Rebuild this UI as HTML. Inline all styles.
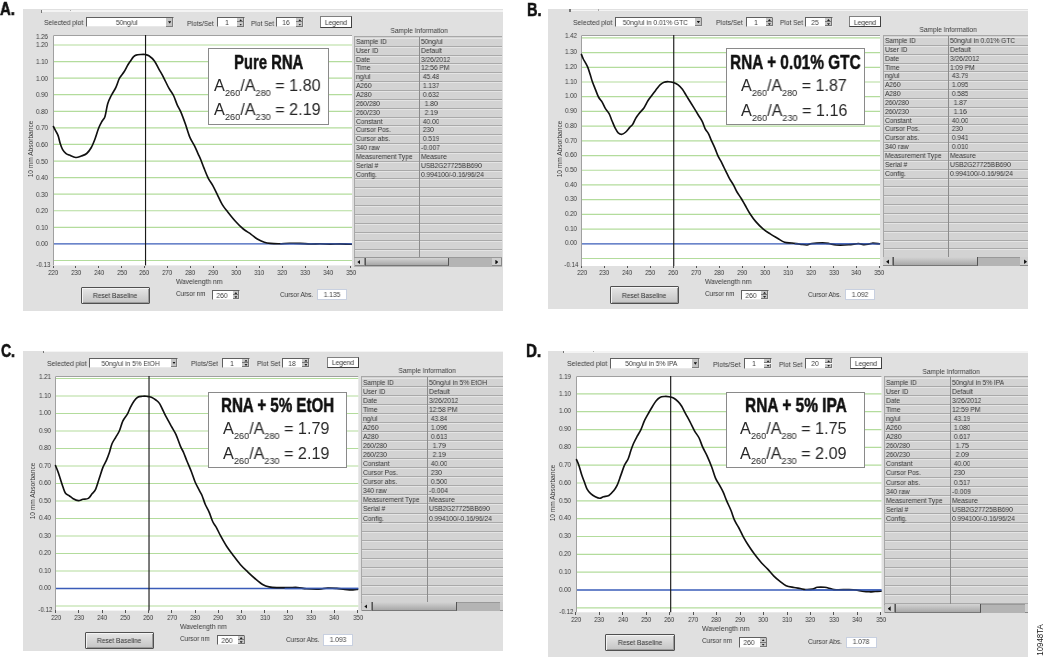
<!DOCTYPE html>
<html><head><meta charset="utf-8"><style>
html,body{margin:0;padding:0;background:#fff}
body{width:1044px;height:658px;position:relative;overflow:hidden;font-family:"Liberation Sans", sans-serif}
.sq{will-change:transform}
sub{font-size:0.57em;vertical-align:baseline;position:relative;top:0.5em;line-height:0}
.lab{position:absolute;font-weight:bold;font-size:18.8px;line-height:19.6px;color:#111;white-space:nowrap;-webkit-text-stroke:0.6px #111}
</style></head><body>
<div style="position:absolute;left:23px;top:9.3px;width:479.8px;height:301.3px;background:#e0e0e0;overflow:hidden">
<div style="position:absolute;left:18.5px;top:0.7px;width:478.5px;height:1.8px;background:#f4f4f4"></div>
<div style="position:absolute;left:17.8px;top:0.5px;width:1.1px;height:2.8px;background:#777"></div>
<div style="position:absolute;left:46.8px;top:0.5px;width:1px;height:1.4px;background:#aaa"></div>
<div style="position:absolute;left:21.3px;top:7.9px;height:12px;line-height:12px;font-size:7.2px;color:#383838;white-space:pre;"><span class="sq" style="display: inline-block; transform-origin: 0px 50%; transform: scaleX(0.943158);">Selected plot</span></div>
<div style="position:absolute;left:63px;top:8px;width:87.8px;height:10.2px;background:#fff;box-sizing:border-box;border-top:1px solid #606060;border-left:1px solid #606060;border-bottom:1px solid #e8e8e8;border-right:1px solid #e8e8e8"></div>
<div style="position:absolute;left:143.3px;top:9px;width:6.7px;height:8.3px;background:#c4c4c4;box-sizing:border-box;border-right:1px solid #808080;border-bottom:1px solid #808080"></div>
<div style="position:absolute;left:145px;top:11.9px;width:3.4px;height:2.4px;background:#111;clip-path:polygon(0 0,100% 0,50% 100%)"></div>
<div style="position:absolute;left:3.5px;top:7.9px;width:200px;height:12px;line-height:12px;font-size:7.2px;color:#383838;white-space:pre;text-align:center;"><span class="sq" style="display: inline-block; transform-origin: 50% 50%; transform: scaleX(0.92);">50ng/ul</span></div>
<div style="position:absolute;left:163.9px;top:8.3px;height:12px;line-height:12px;font-size:7.2px;color:#383838;white-space:pre;"><span class="sq" style="display: inline-block; transform-origin: 0px 50%; transform: scaleX(0.931668);">Plots/Set</span></div>
<div style="position:absolute;left:194px;top:8px;width:27.8px;height:10.2px;background:#fff;box-sizing:border-box;border-top:1px solid #606060;border-left:1px solid #606060;border-bottom:1px solid #e8e8e8;border-right:1px solid #e8e8e8"></div>
<div style="position:absolute;left:214.2px;top:9px;width:6.8px;height:4.1px;background:#c8c8c8;box-sizing:border-box;border-right:1px solid #777;border-bottom:1px solid #777"></div>
<div style="position:absolute;left:214.2px;top:13.1px;width:6.8px;height:4.2px;background:#c8c8c8;box-sizing:border-box;border-right:1px solid #777;border-bottom:1px solid #777"></div>
<div style="position:absolute;left:216.2px;top:9.9px;width:3px;height:2px;background:#222;clip-path:polygon(50% 0,100% 100%,0 100%)"></div>
<div style="position:absolute;left:216.2px;top:14.3px;width:3px;height:2px;background:#222;clip-path:polygon(0 0,100% 0,50% 100%)"></div>
<div style="position:absolute;left:103.9px;top:7.9px;width:200px;height:12px;line-height:12px;font-size:7.2px;color:#383838;white-space:pre;text-align:center;"><span class="sq" style="display: inline-block; transform-origin: 50% 50%; transform: scaleX(0.92);">1</span></div>
<div style="position:absolute;left:253.4px;top:8px;width:27.5px;height:10.2px;background:#fff;box-sizing:border-box;border-top:1px solid #606060;border-left:1px solid #606060;border-bottom:1px solid #e8e8e8;border-right:1px solid #e8e8e8"></div>
<div style="position:absolute;left:273.3px;top:9px;width:6.8px;height:4.1px;background:#c8c8c8;box-sizing:border-box;border-right:1px solid #777;border-bottom:1px solid #777"></div>
<div style="position:absolute;left:273.3px;top:13.1px;width:6.8px;height:4.2px;background:#c8c8c8;box-sizing:border-box;border-right:1px solid #777;border-bottom:1px solid #777"></div>
<div style="position:absolute;left:275.3px;top:9.9px;width:3px;height:2px;background:#222;clip-path:polygon(50% 0,100% 100%,0 100%)"></div>
<div style="position:absolute;left:275.3px;top:14.3px;width:3px;height:2px;background:#222;clip-path:polygon(0 0,100% 0,50% 100%)"></div>
<div style="position:absolute;left:163.15px;top:7.9px;width:200px;height:12px;line-height:12px;font-size:7.2px;color:#383838;white-space:pre;text-align:center;"><span class="sq" style="display: inline-block; transform-origin: 50% 50%; transform: scaleX(0.92);">16</span></div>
<div style="position:absolute;left:228.4px;top:8.3px;height:12px;line-height:12px;font-size:7.2px;color:#383838;white-space:pre;"><span class="sq" style="display: inline-block; transform-origin: 0px 50%; transform: scaleX(0.905773);">Plot Set</span></div>
<div style="position:absolute;left:297.2px;top:7.1px;width:31.7px;height:11.4px;background:#fff;box-sizing:border-box;border:1px solid #404040;border-top-color:#808080;border-left-color:#808080"></div>
<div style="position:absolute;left:213.05px;top:7.7px;width:200px;height:12px;line-height:12px;font-size:7.2px;color:#303030;white-space:pre;text-align:center;"><span class="sq" style="display: inline-block; transform-origin: 50% 50%; transform: scaleX(0.92);">Legend</span></div>
<div style="position:absolute;left:296px;top:15.5px;width:200px;height:12px;line-height:12px;font-size:7.2px;color:#383838;white-space:pre;text-align:center;"><span class="sq" style="display: inline-block; transform-origin: 50% 50%; transform: scaleX(0.92);">Sample Information</span></div>
<svg width="299" height="230.4" style="position:absolute;left:29.8px;top:26.2px;overflow:visible"><rect x="0" y="0" width="299" height="230.4" fill="#fff"></rect><line x1="0" x2="299" y1="225.48" y2="225.48" stroke="#b3dc9c" stroke-width="1.2"></line><line x1="0" x2="299" y1="208.9" y2="208.9" stroke="#3a5cb8" stroke-width="1.3"></line><line x1="0" x2="299" y1="192.33" y2="192.33" stroke="#b3dc9c" stroke-width="1.2"></line><line x1="0" x2="299" y1="175.75" y2="175.75" stroke="#b3dc9c" stroke-width="1.2"></line><line x1="0" x2="299" y1="159.18" y2="159.18" stroke="#b3dc9c" stroke-width="1.2"></line><line x1="0" x2="299" y1="142.6" y2="142.6" stroke="#b3dc9c" stroke-width="1.2"></line><line x1="0" x2="299" y1="126.03" y2="126.03" stroke="#b3dc9c" stroke-width="1.2"></line><line x1="0" x2="299" y1="109.45" y2="109.45" stroke="#b3dc9c" stroke-width="1.2"></line><line x1="0" x2="299" y1="92.88" y2="92.88" stroke="#b3dc9c" stroke-width="1.2"></line><line x1="0" x2="299" y1="76.3" y2="76.3" stroke="#b3dc9c" stroke-width="1.2"></line><line x1="0" x2="299" y1="59.72" y2="59.72" stroke="#b3dc9c" stroke-width="1.2"></line><line x1="0" x2="299" y1="43.15" y2="43.15" stroke="#b3dc9c" stroke-width="1.2"></line><line x1="0" x2="299" y1="26.57" y2="26.57" stroke="#b3dc9c" stroke-width="1.2"></line><line x1="0" x2="299" y1="10" y2="10" stroke="#b3dc9c" stroke-width="1.2"></line><path d="M0.5 230.4 V0.5 H299" fill="none" stroke="#a0a0a0" stroke-width="1"></path><line x1="92.54" x2="92.54" y1="0" y2="230.4" stroke="#1a1a1a" stroke-width="1.15"></line><path d="M0.4 91.5 C0.8 92.27 2.02 94.58 2.8 96.1 C3.58 97.62 4.35 98.48 5.1 100.6 C5.85 102.72 6.57 106.52 7.3 108.8 C8.03 111.08 8.58 112.72 9.5 114.3 C10.42 115.88 11.65 117.33 12.8 118.3 C13.95 119.27 14.73 119.4 16.4 120.1 C18.07 120.8 20.82 122.35 22.8 122.5 C24.78 122.65 26.48 121.67 28.3 121 C30.12 120.33 32.03 119.92 33.7 118.5 C35.37 117.08 36.93 114.87 38.3 112.5 C39.67 110.13 40.68 107.5 41.9 104.3 C43.12 101.1 44.38 96.35 45.6 93.3 C46.82 90.25 48.13 87.97 49.2 86 C50.27 84.03 51.08 84.38 52 81.5 C52.92 78.62 53.65 72.2 54.7 68.7 C55.75 65.2 56.93 63.23 58.3 60.5 C59.67 57.77 61.53 55.18 62.9 52.3 C64.27 49.42 65.13 45.78 66.5 43.2 C67.87 40.62 69.72 39 71.1 36.8 C72.48 34.6 73.7 31.85 74.8 30 C75.9 28.15 76.77 27.05 77.7 25.7 C78.63 24.35 79.5 22.83 80.4 21.9 C81.3 20.97 81.88 20.5 83.1 20.1 C84.32 19.7 86.18 19.6 87.7 19.5 C89.22 19.4 90.83 19.28 92.2 19.5 C93.57 19.72 94.37 19.73 95.9 20.8 C97.43 21.87 99.73 23.68 101.4 25.9 C103.07 28.12 104.38 31.37 105.9 34.1 C107.42 36.83 108.83 39.12 110.5 42.3 C112.17 45.48 114.23 50.17 115.9 53.2 C117.57 56.23 119.13 57.77 120.5 60.5 C121.87 63.23 122.88 66.87 124.1 69.6 C125.32 72.33 126.43 73.7 127.8 76.9 C129.17 80.1 130.78 84.55 132.3 88.8 C133.82 93.05 135.38 98.77 136.9 102.4 C138.42 106.03 140.03 107.87 141.4 110.6 C142.77 113.33 144 116.35 145.1 118.8 C146.2 121.25 147.03 122.95 148 125.3 C148.97 127.65 149.68 129.9 150.9 132.9 C152.12 135.9 153.83 140.4 155.3 143.3 C156.77 146.2 158.23 147.67 159.7 150.3 C161.17 152.93 162.5 155.88 164.1 159.1 C165.7 162.32 167.57 166.68 169.3 169.6 C171.03 172.52 172.32 173.83 174.5 176.6 C176.68 179.37 179.77 183.3 182.4 186.2 C185.03 189.1 187.68 191.82 190.3 194 C192.92 196.18 195.77 197.63 198.1 199.3 C200.43 200.97 202.1 202.68 204.3 204 C206.5 205.32 209.12 206.47 211.3 207.2 C213.48 207.93 214.93 208.15 217.4 208.4 C219.87 208.65 222.9 208.72 226.1 208.7 C229.3 208.68 233.08 208.35 236.6 208.3 C240.12 208.25 243.77 208.28 247.2 208.4 C250.63 208.52 253.87 208.93 257.2 209 C260.53 209.07 263.87 208.78 267.2 208.8 C270.53 208.82 273.87 209.08 277.2 209.1 C280.53 209.12 283.7 208.87 287.2 208.9 C290.7 208.93 296.37 209.23 298.2 209.3" fill="none" stroke="#111" stroke-width="1.65" stroke-linejoin="round" stroke-linecap="round"></path><line x1="227.2" x2="299" y1="208.9" y2="208.9" stroke="#3a5cb8" stroke-width="1.3" opacity="0.85"></line></svg>
<div style="position:absolute;left:-4.8px;top:21.4px;width:30px;height:12px;line-height:12px;font-size:7.2px;color:#383838;text-align:right;white-space:nowrap"><span class="sq" style="display: inline-block; transform-origin: 100% 50%; transform: scaleX(0.86);">1.26</span></div>
<div style="position:absolute;left:-4.8px;top:30.2px;width:30px;height:12px;line-height:12px;font-size:7.2px;color:#383838;text-align:right;white-space:nowrap"><span class="sq" style="display: inline-block; transform-origin: 100% 50%; transform: scaleX(0.86);">1.20</span></div>
<div style="position:absolute;left:-4.8px;top:46.77px;width:30px;height:12px;line-height:12px;font-size:7.2px;color:#383838;text-align:right;white-space:nowrap"><span class="sq" style="display: inline-block; transform-origin: 100% 50%; transform: scaleX(0.86);">1.10</span></div>
<div style="position:absolute;left:-4.8px;top:63.35px;width:30px;height:12px;line-height:12px;font-size:7.2px;color:#383838;text-align:right;white-space:nowrap"><span class="sq" style="display: inline-block; transform-origin: 100% 50%; transform: scaleX(0.86);">1.00</span></div>
<div style="position:absolute;left:-4.8px;top:79.92px;width:30px;height:12px;line-height:12px;font-size:7.2px;color:#383838;text-align:right;white-space:nowrap"><span class="sq" style="display: inline-block; transform-origin: 100% 50%; transform: scaleX(0.86);">0.90</span></div>
<div style="position:absolute;left:-4.8px;top:96.5px;width:30px;height:12px;line-height:12px;font-size:7.2px;color:#383838;text-align:right;white-space:nowrap"><span class="sq" style="display: inline-block; transform-origin: 100% 50%; transform: scaleX(0.86);">0.80</span></div>
<div style="position:absolute;left:-4.8px;top:113.08px;width:30px;height:12px;line-height:12px;font-size:7.2px;color:#383838;text-align:right;white-space:nowrap"><span class="sq" style="display: inline-block; transform-origin: 100% 50%; transform: scaleX(0.86);">0.70</span></div>
<div style="position:absolute;left:-4.8px;top:129.65px;width:30px;height:12px;line-height:12px;font-size:7.2px;color:#383838;text-align:right;white-space:nowrap"><span class="sq" style="display: inline-block; transform-origin: 100% 50%; transform: scaleX(0.86);">0.60</span></div>
<div style="position:absolute;left:-4.8px;top:146.22px;width:30px;height:12px;line-height:12px;font-size:7.2px;color:#383838;text-align:right;white-space:nowrap"><span class="sq" style="display: inline-block; transform-origin: 100% 50%; transform: scaleX(0.86);">0.50</span></div>
<div style="position:absolute;left:-4.8px;top:162.8px;width:30px;height:12px;line-height:12px;font-size:7.2px;color:#383838;text-align:right;white-space:nowrap"><span class="sq" style="display: inline-block; transform-origin: 100% 50%; transform: scaleX(0.86);">0.40</span></div>
<div style="position:absolute;left:-4.8px;top:179.38px;width:30px;height:12px;line-height:12px;font-size:7.2px;color:#383838;text-align:right;white-space:nowrap"><span class="sq" style="display: inline-block; transform-origin: 100% 50%; transform: scaleX(0.86);">0.30</span></div>
<div style="position:absolute;left:-4.8px;top:195.95px;width:30px;height:12px;line-height:12px;font-size:7.2px;color:#383838;text-align:right;white-space:nowrap"><span class="sq" style="display: inline-block; transform-origin: 100% 50%; transform: scaleX(0.86);">0.20</span></div>
<div style="position:absolute;left:-4.8px;top:212.53px;width:30px;height:12px;line-height:12px;font-size:7.2px;color:#383838;text-align:right;white-space:nowrap"><span class="sq" style="display: inline-block; transform-origin: 100% 50%; transform: scaleX(0.86);">0.10</span></div>
<div style="position:absolute;left:-4.8px;top:229.1px;width:30px;height:12px;line-height:12px;font-size:7.2px;color:#383838;text-align:right;white-space:nowrap"><span class="sq" style="display: inline-block; transform-origin: 100% 50%; transform: scaleX(0.86);">0.00</span></div>
<div style="position:absolute;left:-3px;top:250.1px;width:30px;height:12px;line-height:12px;font-size:7.2px;color:#383838;text-align:right;white-space:nowrap"><span class="sq" style="display: inline-block; transform-origin: 100% 50%; transform: scaleX(0.86);">-0.13</span></div>
<div style="position:absolute;left:8px;top:140px;width:80px;height:10px;line-height:10px;font-size:7px;color:#404040;text-align:center;transform:translate(-40px,-5px) rotate(-90deg) scaleX(0.94);white-space:nowrap">10 mm Absorbance</div>
<div style="position:absolute;left:29.5px;top:256.6px;width:1px;height:2.6px;background:#555"></div>
<div style="position:absolute;left:20px;top:258.2px;width:20px;height:12px;line-height:12px;font-size:7.4px;color:#383838;text-align:center"><span class="sq" style="display: inline-block; transform-origin: 50% 50%; transform: scaleX(0.8);">220</span></div>
<div style="position:absolute;left:52.41px;top:256.6px;width:1px;height:2.6px;background:#555"></div>
<div style="position:absolute;left:42.91px;top:258.2px;width:20px;height:12px;line-height:12px;font-size:7.4px;color:#383838;text-align:center"><span class="sq" style="display: inline-block; transform-origin: 50% 50%; transform: scaleX(0.8);">230</span></div>
<div style="position:absolute;left:75.32px;top:256.6px;width:1px;height:2.6px;background:#555"></div>
<div style="position:absolute;left:65.82px;top:258.2px;width:20px;height:12px;line-height:12px;font-size:7.4px;color:#383838;text-align:center"><span class="sq" style="display: inline-block; transform-origin: 50% 50%; transform: scaleX(0.8);">240</span></div>
<div style="position:absolute;left:98.23px;top:256.6px;width:1px;height:2.6px;background:#555"></div>
<div style="position:absolute;left:88.73px;top:258.2px;width:20px;height:12px;line-height:12px;font-size:7.4px;color:#383838;text-align:center"><span class="sq" style="display: inline-block; transform-origin: 50% 50%; transform: scaleX(0.8);">250</span></div>
<div style="position:absolute;left:121.14px;top:256.6px;width:1px;height:2.6px;background:#555"></div>
<div style="position:absolute;left:111.64px;top:258.2px;width:20px;height:12px;line-height:12px;font-size:7.4px;color:#383838;text-align:center"><span class="sq" style="display: inline-block; transform-origin: 50% 50%; transform: scaleX(0.8);">260</span></div>
<div style="position:absolute;left:144.05px;top:256.6px;width:1px;height:2.6px;background:#555"></div>
<div style="position:absolute;left:134.55px;top:258.2px;width:20px;height:12px;line-height:12px;font-size:7.4px;color:#383838;text-align:center"><span class="sq" style="display: inline-block; transform-origin: 50% 50%; transform: scaleX(0.8);">270</span></div>
<div style="position:absolute;left:166.96px;top:256.6px;width:1px;height:2.6px;background:#555"></div>
<div style="position:absolute;left:157.46px;top:258.2px;width:20px;height:12px;line-height:12px;font-size:7.4px;color:#383838;text-align:center"><span class="sq" style="display: inline-block; transform-origin: 50% 50%; transform: scaleX(0.8);">280</span></div>
<div style="position:absolute;left:189.87px;top:256.6px;width:1px;height:2.6px;background:#555"></div>
<div style="position:absolute;left:180.37px;top:258.2px;width:20px;height:12px;line-height:12px;font-size:7.4px;color:#383838;text-align:center"><span class="sq" style="display: inline-block; transform-origin: 50% 50%; transform: scaleX(0.8);">290</span></div>
<div style="position:absolute;left:212.78px;top:256.6px;width:1px;height:2.6px;background:#555"></div>
<div style="position:absolute;left:203.28px;top:258.2px;width:20px;height:12px;line-height:12px;font-size:7.4px;color:#383838;text-align:center"><span class="sq" style="display: inline-block; transform-origin: 50% 50%; transform: scaleX(0.8);">300</span></div>
<div style="position:absolute;left:235.69px;top:256.6px;width:1px;height:2.6px;background:#555"></div>
<div style="position:absolute;left:226.19px;top:258.2px;width:20px;height:12px;line-height:12px;font-size:7.4px;color:#383838;text-align:center"><span class="sq" style="display: inline-block; transform-origin: 50% 50%; transform: scaleX(0.8);">310</span></div>
<div style="position:absolute;left:258.6px;top:256.6px;width:1px;height:2.6px;background:#555"></div>
<div style="position:absolute;left:249.1px;top:258.2px;width:20px;height:12px;line-height:12px;font-size:7.4px;color:#383838;text-align:center"><span class="sq" style="display: inline-block; transform-origin: 50% 50%; transform: scaleX(0.8);">320</span></div>
<div style="position:absolute;left:281.51px;top:256.6px;width:1px;height:2.6px;background:#555"></div>
<div style="position:absolute;left:272.01px;top:258.2px;width:20px;height:12px;line-height:12px;font-size:7.4px;color:#383838;text-align:center"><span class="sq" style="display: inline-block; transform-origin: 50% 50%; transform: scaleX(0.8);">330</span></div>
<div style="position:absolute;left:304.42px;top:256.6px;width:1px;height:2.6px;background:#555"></div>
<div style="position:absolute;left:294.92px;top:258.2px;width:20px;height:12px;line-height:12px;font-size:7.4px;color:#383838;text-align:center"><span class="sq" style="display: inline-block; transform-origin: 50% 50%; transform: scaleX(0.8);">340</span></div>
<div style="position:absolute;left:327.33px;top:256.6px;width:1px;height:2.6px;background:#555"></div>
<div style="position:absolute;left:317.83px;top:258.2px;width:20px;height:12px;line-height:12px;font-size:7.4px;color:#383838;text-align:center"><span class="sq" style="display: inline-block; transform-origin: 50% 50%; transform: scaleX(0.8);">350</span></div>
<div style="position:absolute;left:153px;top:266.8px;height:12px;line-height:12px;font-size:7.2px;color:#383838;white-space:pre;"><span class="sq" style="display: inline-block; transform-origin: 0px 50%; transform: scaleX(0.930104);">Wavelength nm</span></div>
<div style="position:absolute;left:58.4px;top:277.5px;width:68.5px;height:17.1px;box-sizing:border-box;border:1px solid #505050;border-radius:1px;background:linear-gradient(#e6e6e6,#c4c4c4);box-shadow:inset 1px 1px 0 #f4f4f4, inset -1px -1px 0 #9a9a9a"></div>
<div style="position:absolute;left:-7.35px;top:280.8px;width:200px;height:12px;line-height:12px;font-size:7.2px;color:#303030;white-space:pre;text-align:center;"><span class="sq" style="display: inline-block; transform-origin: 50% 50%; transform: scaleX(0.92);">Reset Baseline</span></div>
<div style="position:absolute;left:153px;top:278.7px;height:12px;line-height:12px;font-size:7.2px;color:#383838;white-space:pre;"><span class="sq" style="display: inline-block; transform-origin: 0px 50%; transform: scaleX(0.875978);">Cursor nm</span></div>
<div style="position:absolute;left:189.1px;top:280.8px;width:28px;height:10.1px;background:#fff;box-sizing:border-box;border-top:1px solid #606060;border-left:1px solid #606060;border-bottom:1px solid #e8e8e8;border-right:1px solid #e8e8e8"></div>
<div style="position:absolute;left:209.5px;top:281.8px;width:6.8px;height:4.1px;background:#c8c8c8;box-sizing:border-box;border-right:1px solid #777;border-bottom:1px solid #777"></div>
<div style="position:absolute;left:209.5px;top:285.9px;width:6.8px;height:4.2px;background:#c8c8c8;box-sizing:border-box;border-right:1px solid #777;border-bottom:1px solid #777"></div>
<div style="position:absolute;left:211.4px;top:282.7px;width:3px;height:2px;background:#222;clip-path:polygon(50% 0,100% 100%,0 100%)"></div>
<div style="position:absolute;left:211.4px;top:287px;width:3px;height:2px;background:#222;clip-path:polygon(0 0,100% 0,50% 100%)"></div>
<div style="position:absolute;left:99.05px;top:280.6px;width:200px;height:12px;line-height:12px;font-size:7.2px;color:#383838;white-space:pre;text-align:center;"><span class="sq" style="display: inline-block; transform-origin: 50% 50%; transform: scaleX(0.92);">260</span></div>
<div style="position:absolute;left:256.7px;top:279.6px;height:12px;line-height:12px;font-size:7.2px;color:#383838;white-space:pre;"><span class="sq" style="display: inline-block; transform-origin: 0px 50%; transform: scaleX(0.881198);">Cursor Abs.</span></div>
<div style="position:absolute;left:293.7px;top:280.2px;width:29.9px;height:11px;background:#fff;box-sizing:border-box;border:1px solid #c8d0e0"></div>
<div style="position:absolute;left:208.65px;top:279.8px;width:200px;height:12px;line-height:12px;font-size:7.2px;color:#383838;white-space:pre;text-align:center;"><span class="sq" style="display: inline-block; transform-origin: 50% 50%; transform: scaleX(0.92);">1.135</span></div>
<div style="position:absolute;left:331.1px;top:26.6px;width:148.2px;height:221.4px;background:#d3d3d3;box-sizing:border-box;border-left:1px solid #a8a8a8;border-top:1px solid #a8a8a8;overflow:hidden"><div style="position:absolute;left:0;top:8.85px;width:100%;height:1px;background:#a9a9a9"></div><div style="position:absolute;left:0;top:1px;width:100%;height:1px;background:#e4e4e4"></div><div style="position:absolute;left:0.9px;top:1px;height:8.85px;line-height:8.85px;font-size:7.2px;color:#333;white-space:nowrap"><span class="sq" style="display: inline-block; transform-origin: 0px 50%; transform: scaleX(0.92);">Sample ID</span></div><div style="position:absolute;left:66.4px;top:1px;height:8.85px;line-height:8.85px;font-size:7.2px;color:#333;white-space:pre"><span class="sq" style="display: inline-block; transform-origin: 0px 50%; transform: scaleX(0.92);">50ng/ul</span></div><div style="position:absolute;left:0;top:17.7px;width:100%;height:1px;background:#a9a9a9"></div><div style="position:absolute;left:0;top:9.85px;width:100%;height:1px;background:#e4e4e4"></div><div style="position:absolute;left:0.9px;top:9.85px;height:8.85px;line-height:8.85px;font-size:7.2px;color:#333;white-space:nowrap"><span class="sq" style="display: inline-block; transform-origin: 0px 50%; transform: scaleX(0.92);">User ID</span></div><div style="position:absolute;left:66.4px;top:9.85px;height:8.85px;line-height:8.85px;font-size:7.2px;color:#333;white-space:pre"><span class="sq" style="display: inline-block; transform-origin: 0px 50%; transform: scaleX(0.92);">Default</span></div><div style="position:absolute;left:0;top:26.55px;width:100%;height:1px;background:#a9a9a9"></div><div style="position:absolute;left:0;top:18.7px;width:100%;height:1px;background:#e4e4e4"></div><div style="position:absolute;left:0.9px;top:18.7px;height:8.85px;line-height:8.85px;font-size:7.2px;color:#333;white-space:nowrap"><span class="sq" style="display: inline-block; transform-origin: 0px 50%; transform: scaleX(0.92);">Date</span></div><div style="position:absolute;left:66.4px;top:18.7px;height:8.85px;line-height:8.85px;font-size:7.2px;color:#333;white-space:pre"><span class="sq" style="display: inline-block; transform-origin: 0px 50%; transform: scaleX(0.92);">3/26/2012</span></div><div style="position:absolute;left:0;top:35.4px;width:100%;height:1px;background:#a9a9a9"></div><div style="position:absolute;left:0;top:27.55px;width:100%;height:1px;background:#e4e4e4"></div><div style="position:absolute;left:0.9px;top:27.55px;height:8.85px;line-height:8.85px;font-size:7.2px;color:#333;white-space:nowrap"><span class="sq" style="display: inline-block; transform-origin: 0px 50%; transform: scaleX(0.92);">Time</span></div><div style="position:absolute;left:66.4px;top:27.55px;height:8.85px;line-height:8.85px;font-size:7.2px;color:#333;white-space:pre"><span class="sq" style="display: inline-block; transform-origin: 0px 50%; transform: scaleX(0.92);">12:56 PM</span></div><div style="position:absolute;left:0;top:44.25px;width:100%;height:1px;background:#a9a9a9"></div><div style="position:absolute;left:0;top:36.4px;width:100%;height:1px;background:#e4e4e4"></div><div style="position:absolute;left:0.9px;top:36.4px;height:8.85px;line-height:8.85px;font-size:7.2px;color:#333;white-space:nowrap"><span class="sq" style="display: inline-block; transform-origin: 0px 50%; transform: scaleX(0.92);">ng/ul</span></div><div style="position:absolute;left:66.4px;top:36.4px;height:8.85px;line-height:8.85px;font-size:7.2px;color:#333;white-space:pre"><span class="sq" style="display: inline-block; transform-origin: 0px 50%; transform: scaleX(0.92);"> 45.48</span></div><div style="position:absolute;left:0;top:53.1px;width:100%;height:1px;background:#a9a9a9"></div><div style="position:absolute;left:0;top:45.25px;width:100%;height:1px;background:#e4e4e4"></div><div style="position:absolute;left:0.9px;top:45.25px;height:8.85px;line-height:8.85px;font-size:7.2px;color:#333;white-space:nowrap"><span class="sq" style="display: inline-block; transform-origin: 0px 50%; transform: scaleX(0.92);">A260</span></div><div style="position:absolute;left:66.4px;top:45.25px;height:8.85px;line-height:8.85px;font-size:7.2px;color:#333;white-space:pre"><span class="sq" style="display: inline-block; transform-origin: 0px 50%; transform: scaleX(0.92);"> 1.137</span></div><div style="position:absolute;left:0;top:61.95px;width:100%;height:1px;background:#a9a9a9"></div><div style="position:absolute;left:0;top:54.1px;width:100%;height:1px;background:#e4e4e4"></div><div style="position:absolute;left:0.9px;top:54.1px;height:8.85px;line-height:8.85px;font-size:7.2px;color:#333;white-space:nowrap"><span class="sq" style="display: inline-block; transform-origin: 0px 50%; transform: scaleX(0.92);">A280</span></div><div style="position:absolute;left:66.4px;top:54.1px;height:8.85px;line-height:8.85px;font-size:7.2px;color:#333;white-space:pre"><span class="sq" style="display: inline-block; transform-origin: 0px 50%; transform: scaleX(0.92);"> 0.632</span></div><div style="position:absolute;left:0;top:70.8px;width:100%;height:1px;background:#a9a9a9"></div><div style="position:absolute;left:0;top:62.95px;width:100%;height:1px;background:#e4e4e4"></div><div style="position:absolute;left:0.9px;top:62.95px;height:8.85px;line-height:8.85px;font-size:7.2px;color:#333;white-space:nowrap"><span class="sq" style="display: inline-block; transform-origin: 0px 50%; transform: scaleX(0.92);">260/280</span></div><div style="position:absolute;left:66.4px;top:62.95px;height:8.85px;line-height:8.85px;font-size:7.2px;color:#333;white-space:pre"><span class="sq" style="display: inline-block; transform-origin: 0px 50%; transform: scaleX(0.92);">  1.80</span></div><div style="position:absolute;left:0;top:79.65px;width:100%;height:1px;background:#a9a9a9"></div><div style="position:absolute;left:0;top:71.8px;width:100%;height:1px;background:#e4e4e4"></div><div style="position:absolute;left:0.9px;top:71.8px;height:8.85px;line-height:8.85px;font-size:7.2px;color:#333;white-space:nowrap"><span class="sq" style="display: inline-block; transform-origin: 0px 50%; transform: scaleX(0.92);">260/230</span></div><div style="position:absolute;left:66.4px;top:71.8px;height:8.85px;line-height:8.85px;font-size:7.2px;color:#333;white-space:pre"><span class="sq" style="display: inline-block; transform-origin: 0px 50%; transform: scaleX(0.92);">  2.19</span></div><div style="position:absolute;left:0;top:88.5px;width:100%;height:1px;background:#a9a9a9"></div><div style="position:absolute;left:0;top:80.65px;width:100%;height:1px;background:#e4e4e4"></div><div style="position:absolute;left:0.9px;top:80.65px;height:8.85px;line-height:8.85px;font-size:7.2px;color:#333;white-space:nowrap"><span class="sq" style="display: inline-block; transform-origin: 0px 50%; transform: scaleX(0.92);">Constant</span></div><div style="position:absolute;left:66.4px;top:80.65px;height:8.85px;line-height:8.85px;font-size:7.2px;color:#333;white-space:pre"><span class="sq" style="display: inline-block; transform-origin: 0px 50%; transform: scaleX(0.92);"> 40.00</span></div><div style="position:absolute;left:0;top:97.35px;width:100%;height:1px;background:#a9a9a9"></div><div style="position:absolute;left:0;top:89.5px;width:100%;height:1px;background:#e4e4e4"></div><div style="position:absolute;left:0.9px;top:89.5px;height:8.85px;line-height:8.85px;font-size:7.2px;color:#333;white-space:nowrap"><span class="sq" style="display: inline-block; transform-origin: 0px 50%; transform: scaleX(0.92);">Cursor Pos.</span></div><div style="position:absolute;left:66.4px;top:89.5px;height:8.85px;line-height:8.85px;font-size:7.2px;color:#333;white-space:pre"><span class="sq" style="display: inline-block; transform-origin: 0px 50%; transform: scaleX(0.92);"> 230</span></div><div style="position:absolute;left:0;top:106.2px;width:100%;height:1px;background:#a9a9a9"></div><div style="position:absolute;left:0;top:98.35px;width:100%;height:1px;background:#e4e4e4"></div><div style="position:absolute;left:0.9px;top:98.35px;height:8.85px;line-height:8.85px;font-size:7.2px;color:#333;white-space:nowrap"><span class="sq" style="display: inline-block; transform-origin: 0px 50%; transform: scaleX(0.92);">Cursor abs.</span></div><div style="position:absolute;left:66.4px;top:98.35px;height:8.85px;line-height:8.85px;font-size:7.2px;color:#333;white-space:pre"><span class="sq" style="display: inline-block; transform-origin: 0px 50%; transform: scaleX(0.92);"> 0.519</span></div><div style="position:absolute;left:0;top:115.05px;width:100%;height:1px;background:#a9a9a9"></div><div style="position:absolute;left:0;top:107.2px;width:100%;height:1px;background:#e4e4e4"></div><div style="position:absolute;left:0.9px;top:107.2px;height:8.85px;line-height:8.85px;font-size:7.2px;color:#333;white-space:nowrap"><span class="sq" style="display: inline-block; transform-origin: 0px 50%; transform: scaleX(0.92);">340 raw</span></div><div style="position:absolute;left:66.4px;top:107.2px;height:8.85px;line-height:8.85px;font-size:7.2px;color:#333;white-space:pre"><span class="sq" style="display: inline-block; transform-origin: 0px 50%; transform: scaleX(0.92);">-0.007</span></div><div style="position:absolute;left:0;top:123.9px;width:100%;height:1px;background:#a9a9a9"></div><div style="position:absolute;left:0;top:116.05px;width:100%;height:1px;background:#e4e4e4"></div><div style="position:absolute;left:0.9px;top:116.05px;height:8.85px;line-height:8.85px;font-size:7.2px;color:#333;white-space:nowrap"><span class="sq" style="display: inline-block; transform-origin: 0px 50%; transform: scaleX(0.92);">Measurement Type</span></div><div style="position:absolute;left:66.4px;top:116.05px;height:8.85px;line-height:8.85px;font-size:7.2px;color:#333;white-space:pre"><span class="sq" style="display: inline-block; transform-origin: 0px 50%; transform: scaleX(0.92);">Measure</span></div><div style="position:absolute;left:0;top:132.75px;width:100%;height:1px;background:#a9a9a9"></div><div style="position:absolute;left:0;top:124.9px;width:100%;height:1px;background:#e4e4e4"></div><div style="position:absolute;left:0.9px;top:124.9px;height:8.85px;line-height:8.85px;font-size:7.2px;color:#333;white-space:nowrap"><span class="sq" style="display: inline-block; transform-origin: 0px 50%; transform: scaleX(0.92);">Serial #</span></div><div style="position:absolute;left:66.4px;top:124.9px;height:8.85px;line-height:8.85px;font-size:7.2px;color:#333;white-space:pre"><span class="sq" style="display: inline-block; transform-origin: 0px 50%; transform: scaleX(0.92);">USB2G27725BB690</span></div><div style="position:absolute;left:0;top:141.6px;width:100%;height:1px;background:#a9a9a9"></div><div style="position:absolute;left:0;top:133.75px;width:100%;height:1px;background:#e4e4e4"></div><div style="position:absolute;left:0.9px;top:133.75px;height:8.85px;line-height:8.85px;font-size:7.2px;color:#333;white-space:nowrap"><span class="sq" style="display: inline-block; transform-origin: 0px 50%; transform: scaleX(0.92);">Config.</span></div><div style="position:absolute;left:66.4px;top:133.75px;height:8.85px;line-height:8.85px;font-size:7.2px;color:#333;white-space:pre"><span class="sq" style="display: inline-block; transform-origin: 0px 50%; transform: scaleX(0.92);">0.994100/-0.16/96/24</span></div><div style="position:absolute;left:0;top:150.45px;width:100%;height:1px;background:#a9a9a9"></div><div style="position:absolute;left:0;top:142.6px;width:100%;height:1px;background:#e4e4e4"></div><div style="position:absolute;left:0;top:159.3px;width:100%;height:1px;background:#a9a9a9"></div><div style="position:absolute;left:0;top:151.45px;width:100%;height:1px;background:#e4e4e4"></div><div style="position:absolute;left:0;top:168.15px;width:100%;height:1px;background:#a9a9a9"></div><div style="position:absolute;left:0;top:160.3px;width:100%;height:1px;background:#e4e4e4"></div><div style="position:absolute;left:0;top:177px;width:100%;height:1px;background:#a9a9a9"></div><div style="position:absolute;left:0;top:169.15px;width:100%;height:1px;background:#e4e4e4"></div><div style="position:absolute;left:0;top:185.85px;width:100%;height:1px;background:#a9a9a9"></div><div style="position:absolute;left:0;top:178px;width:100%;height:1px;background:#e4e4e4"></div><div style="position:absolute;left:0;top:194.7px;width:100%;height:1px;background:#a9a9a9"></div><div style="position:absolute;left:0;top:186.85px;width:100%;height:1px;background:#e4e4e4"></div><div style="position:absolute;left:0;top:203.55px;width:100%;height:1px;background:#a9a9a9"></div><div style="position:absolute;left:0;top:195.7px;width:100%;height:1px;background:#e4e4e4"></div><div style="position:absolute;left:0;top:212.4px;width:100%;height:1px;background:#a9a9a9"></div><div style="position:absolute;left:0;top:204.55px;width:100%;height:1px;background:#e4e4e4"></div><div style="position:absolute;left:0;top:221.25px;width:100%;height:1px;background:#a9a9a9"></div><div style="position:absolute;left:0;top:213.4px;width:100%;height:1px;background:#e4e4e4"></div><div style="position:absolute;left:0;top:230.1px;width:100%;height:1px;background:#a9a9a9"></div><div style="position:absolute;left:0;top:222.25px;width:100%;height:1px;background:#e4e4e4"></div><div style="position:absolute;left:64.2px;top:0;width:1px;height:100%;background:#8c8c8c"></div><div style="position:absolute;left:147.2px;top:0;width:1px;height:100%;background:#8c8c8c"></div></div>
<div style="position:absolute;left:331.1px;top:248px;width:148.2px;height:9.3px;background:#b4b4b4;border-top:1px solid #999;box-sizing:border-box"></div>
<div style="position:absolute;left:331.6px;top:248.3px;width:10px;height:8.8px;background:#cfcfcf;box-sizing:border-box;border-right:1px solid #888;border-bottom:1px solid #888"></div>
<div style="position:absolute;left:334.4px;top:250.5px;width:3px;height:4.6px;background:#111;clip-path:polygon(0 50%,100% 0,100% 100%)"></div>
<div style="position:absolute;left:341.6px;top:248.5px;width:84.3px;height:8.6px;background:linear-gradient(#d4d4d4,#a8a8a8);box-sizing:border-box;border-left:1px solid #555;border-right:1px solid #555;border-bottom:1px solid #777"></div>
<div style="position:absolute;left:468.6px;top:248.3px;width:10px;height:8.8px;background:#cfcfcf;box-sizing:border-box;border-right:1px solid #888;border-bottom:1px solid #888"></div>
<div style="position:absolute;left:472.4px;top:250.5px;width:3px;height:4.6px;background:#111;clip-path:polygon(0 0,100% 50%,0 100%)"></div>
</div>
<div style="position:absolute;left:208.3px;top:48px;width:120.8px;height:76.7px;background:#fff;box-sizing:border-box;border:1.4px solid #8a8a8a"></div>
<div style="position:absolute;left:233.9px;top:52.01px;width:69.3px;height:20px;line-height:20px;font-size:19.6px;font-weight:bold;color:#111;white-space:nowrap;-webkit-text-stroke:0.5px #111"><span class="sq" style="display: inline-block; transform-origin: 0px 50%; transform: scaleX(0.757636);">Pure RNA</span></div>
<div style="position:absolute;left:214.4px;top:76.5px;height:16.3px;line-height:16.3px;font-size:16.3px;color:#262626;white-space:nowrap"><span class="sq ratio" style="display: inline-block; transform-origin: 0px 50%; transform: scaleX(0.991484);">A<sub>260</sub>/A<sub>280</sub> = 1.80</span></div>
<div style="position:absolute;left:214.4px;top:101.4px;height:16.3px;line-height:16.3px;font-size:16.3px;color:#262626;white-space:nowrap"><span class="sq ratio" style="display: inline-block; transform-origin: 0px 50%; transform: scaleX(0.991484);">A<sub>260</sub>/A<sub>230</sub> = 2.19</span></div>
<div style="position:absolute;left:548.2px;top:9.3px;width:479.8px;height:299.5px;background:#e0e0e0;overflow:hidden">
<div style="position:absolute;left:22px;top:0.4px;width:478.5px;height:1.8px;background:#f4f4f4"></div>
<div style="position:absolute;left:21.3px;top:0.2px;width:1.1px;height:2.8px;background:#777"></div>
<div style="position:absolute;left:50.3px;top:0.2px;width:1px;height:1.4px;background:#aaa"></div>
<div style="position:absolute;left:24.8px;top:7.6px;height:12px;line-height:12px;font-size:7.2px;color:#383838;white-space:pre;"><span class="sq" style="display: inline-block; transform-origin: 0px 50%; transform: scaleX(0.943158);">Selected plot</span></div>
<div style="position:absolute;left:66.5px;top:7.7px;width:87.8px;height:10.2px;background:#fff;box-sizing:border-box;border-top:1px solid #606060;border-left:1px solid #606060;border-bottom:1px solid #e8e8e8;border-right:1px solid #e8e8e8"></div>
<div style="position:absolute;left:146.8px;top:8.7px;width:6.7px;height:8.3px;background:#c4c4c4;box-sizing:border-box;border-right:1px solid #808080;border-bottom:1px solid #808080"></div>
<div style="position:absolute;left:148.5px;top:11.6px;width:3.4px;height:2.4px;background:#111;clip-path:polygon(0 0,100% 0,50% 100%)"></div>
<div style="position:absolute;left:7px;top:7.6px;width:200px;height:12px;line-height:12px;font-size:7.2px;color:#383838;white-space:pre;text-align:center;"><span class="sq" style="display: inline-block; transform-origin: 50% 50%; transform: scaleX(0.92);">50ng/ul in 0.01% GTC</span></div>
<div style="position:absolute;left:167.4px;top:8px;height:12px;line-height:12px;font-size:7.2px;color:#383838;white-space:pre;"><span class="sq" style="display: inline-block; transform-origin: 0px 50%; transform: scaleX(0.931668);">Plots/Set</span></div>
<div style="position:absolute;left:197.5px;top:7.7px;width:27.8px;height:10.2px;background:#fff;box-sizing:border-box;border-top:1px solid #606060;border-left:1px solid #606060;border-bottom:1px solid #e8e8e8;border-right:1px solid #e8e8e8"></div>
<div style="position:absolute;left:217.7px;top:8.7px;width:6.8px;height:4.1px;background:#c8c8c8;box-sizing:border-box;border-right:1px solid #777;border-bottom:1px solid #777"></div>
<div style="position:absolute;left:217.7px;top:12.8px;width:6.8px;height:4.2px;background:#c8c8c8;box-sizing:border-box;border-right:1px solid #777;border-bottom:1px solid #777"></div>
<div style="position:absolute;left:219.7px;top:9.6px;width:3px;height:2px;background:#222;clip-path:polygon(50% 0,100% 100%,0 100%)"></div>
<div style="position:absolute;left:219.7px;top:14px;width:3px;height:2px;background:#222;clip-path:polygon(0 0,100% 0,50% 100%)"></div>
<div style="position:absolute;left:107.4px;top:7.6px;width:200px;height:12px;line-height:12px;font-size:7.2px;color:#383838;white-space:pre;text-align:center;"><span class="sq" style="display: inline-block; transform-origin: 50% 50%; transform: scaleX(0.92);">1</span></div>
<div style="position:absolute;left:256.9px;top:7.7px;width:27.5px;height:10.2px;background:#fff;box-sizing:border-box;border-top:1px solid #606060;border-left:1px solid #606060;border-bottom:1px solid #e8e8e8;border-right:1px solid #e8e8e8"></div>
<div style="position:absolute;left:276.8px;top:8.7px;width:6.8px;height:4.1px;background:#c8c8c8;box-sizing:border-box;border-right:1px solid #777;border-bottom:1px solid #777"></div>
<div style="position:absolute;left:276.8px;top:12.8px;width:6.8px;height:4.2px;background:#c8c8c8;box-sizing:border-box;border-right:1px solid #777;border-bottom:1px solid #777"></div>
<div style="position:absolute;left:278.8px;top:9.6px;width:3px;height:2px;background:#222;clip-path:polygon(50% 0,100% 100%,0 100%)"></div>
<div style="position:absolute;left:278.8px;top:14px;width:3px;height:2px;background:#222;clip-path:polygon(0 0,100% 0,50% 100%)"></div>
<div style="position:absolute;left:166.65px;top:7.6px;width:200px;height:12px;line-height:12px;font-size:7.2px;color:#383838;white-space:pre;text-align:center;"><span class="sq" style="display: inline-block; transform-origin: 50% 50%; transform: scaleX(0.92);">25</span></div>
<div style="position:absolute;left:231.9px;top:8px;height:12px;line-height:12px;font-size:7.2px;color:#383838;white-space:pre;"><span class="sq" style="display: inline-block; transform-origin: 0px 50%; transform: scaleX(0.905773);">Plot Set</span></div>
<div style="position:absolute;left:300.7px;top:6.8px;width:31.7px;height:11.4px;background:#fff;box-sizing:border-box;border:1px solid #404040;border-top-color:#808080;border-left-color:#808080"></div>
<div style="position:absolute;left:216.55px;top:7.4px;width:200px;height:12px;line-height:12px;font-size:7.2px;color:#303030;white-space:pre;text-align:center;"><span class="sq" style="display: inline-block; transform-origin: 50% 50%; transform: scaleX(0.92);">Legend</span></div>
<div style="position:absolute;left:299.5px;top:15.2px;width:200px;height:12px;line-height:12px;font-size:7.2px;color:#383838;white-space:pre;text-align:center;"><span class="sq" style="display: inline-block; transform-origin: 50% 50%; transform: scaleX(0.92);">Sample Information</span></div>
<svg width="299" height="231" style="position:absolute;left:33.1px;top:25.4px;overflow:visible"><rect x="0" y="0" width="299" height="231" fill="#fff"></rect><line x1="0" x2="299" y1="223.51" y2="223.51" stroke="#b3dc9c" stroke-width="1.2"></line><line x1="0" x2="299" y1="208.8" y2="208.8" stroke="#3a5cb8" stroke-width="1.3"></line><line x1="0" x2="299" y1="194.09" y2="194.09" stroke="#b3dc9c" stroke-width="1.2"></line><line x1="0" x2="299" y1="179.38" y2="179.38" stroke="#b3dc9c" stroke-width="1.2"></line><line x1="0" x2="299" y1="164.67" y2="164.67" stroke="#b3dc9c" stroke-width="1.2"></line><line x1="0" x2="299" y1="149.96" y2="149.96" stroke="#b3dc9c" stroke-width="1.2"></line><line x1="0" x2="299" y1="135.25" y2="135.25" stroke="#b3dc9c" stroke-width="1.2"></line><line x1="0" x2="299" y1="120.54" y2="120.54" stroke="#b3dc9c" stroke-width="1.2"></line><line x1="0" x2="299" y1="105.83" y2="105.83" stroke="#b3dc9c" stroke-width="1.2"></line><line x1="0" x2="299" y1="91.12" y2="91.12" stroke="#b3dc9c" stroke-width="1.2"></line><line x1="0" x2="299" y1="76.41" y2="76.41" stroke="#b3dc9c" stroke-width="1.2"></line><line x1="0" x2="299" y1="61.7" y2="61.7" stroke="#b3dc9c" stroke-width="1.2"></line><line x1="0" x2="299" y1="46.99" y2="46.99" stroke="#b3dc9c" stroke-width="1.2"></line><line x1="0" x2="299" y1="32.28" y2="32.28" stroke="#b3dc9c" stroke-width="1.2"></line><line x1="0" x2="299" y1="17.57" y2="17.57" stroke="#b3dc9c" stroke-width="1.2"></line><line x1="0" x2="299" y1="2.86" y2="2.86" stroke="#b3dc9c" stroke-width="1.2"></line><path d="M0.5 231 V0.5 H299" fill="none" stroke="#a0a0a0" stroke-width="1"></path><line x1="92.74" x2="92.74" y1="0" y2="231" stroke="#1a1a1a" stroke-width="1.15"></line><path d="M0.4 19.4 C0.72 20.17 1.62 22.6 2.3 24 C2.98 25.4 3.75 26.4 4.5 27.8 C5.25 29.2 6.03 30.5 6.8 32.4 C7.57 34.3 8.33 36.8 9.1 39.2 C9.87 41.6 10.52 44.27 11.4 46.8 C12.28 49.33 13.38 51.87 14.4 54.4 C15.42 56.93 16.35 59.85 17.5 62 C18.65 64.15 20.17 65.4 21.3 67.3 C22.43 69.2 23.17 71.5 24.3 73.4 C25.43 75.3 26.95 76.55 28.1 78.7 C29.25 80.85 30.18 83.88 31.2 86.3 C32.22 88.72 33.2 91.28 34.2 93.2 C35.2 95.12 36.07 96.78 37.2 97.8 C38.33 98.82 39.73 99.43 41 99.3 C42.27 99.17 43.52 98.15 44.8 97 C46.08 95.85 47.55 93.67 48.7 92.4 C49.85 91.13 50.7 90.92 51.7 89.4 C52.7 87.88 53.57 85.2 54.7 83.3 C55.83 81.4 57.1 79.77 58.5 78 C59.9 76.23 61.7 74.73 63.1 72.7 C64.5 70.67 65.72 67.7 66.9 65.8 C68.08 63.9 69.15 62.72 70.2 61.3 C71.25 59.88 72.2 58.63 73.2 57.3 C74.2 55.97 75.18 54.57 76.2 53.3 C77.22 52.03 78.15 50.72 79.3 49.7 C80.45 48.68 81.7 47.7 83.1 47.2 C84.5 46.7 86.17 46.65 87.7 46.7 C89.23 46.75 90.78 47 92.3 47.5 C93.82 48 95.28 48.57 96.8 49.7 C98.32 50.83 100 52.52 101.4 54.3 C102.8 56.08 103.93 58.37 105.2 60.4 C106.47 62.43 107.73 64.47 109 66.5 C110.27 68.53 111.4 70.32 112.8 72.6 C114.2 74.88 116 77.92 117.4 80.2 C118.8 82.48 120.07 84.02 121.2 86.3 C122.33 88.58 123.18 91.88 124.2 93.9 C125.22 95.92 126.28 96.5 127.3 98.4 C128.32 100.3 129.17 102.77 130.3 105.3 C131.43 107.83 132.97 110.95 134.1 113.6 C135.23 116.25 136.07 118.98 137.1 121.2 C138.13 123.42 139.32 125.02 140.3 126.9 C141.28 128.78 142.07 130.6 143 132.5 C143.93 134.4 144.93 136.37 145.9 138.3 C146.87 140.23 147.72 142.18 148.8 144.1 C149.88 146.02 151.2 147.65 152.4 149.8 C153.6 151.95 154.68 154.72 156 157 C157.32 159.28 158.97 161.33 160.3 163.5 C161.63 165.67 162.55 167.47 164 170 C165.45 172.53 167.2 175.93 169 178.7 C170.8 181.47 172.63 184.08 174.8 186.6 C176.97 189.12 179.6 191.75 182 193.8 C184.4 195.85 186.8 197.33 189.2 198.9 C191.6 200.47 194 201.8 196.4 203.2 C198.8 204.6 201.18 206.5 203.6 207.3 C206.02 208.1 208.32 207.68 210.9 208 C213.48 208.32 216.58 208.87 219.1 209.2 C221.62 209.53 224.03 210.12 226 210 C227.97 209.88 228.32 208.85 230.9 208.5 C233.48 208.15 238.65 207.9 241.5 207.9 C244.35 207.9 245.7 208.15 248 208.5 C250.3 208.85 252.03 209.78 255.3 210 C258.57 210.22 263.93 210.05 267.6 209.8 C271.27 209.55 274.87 208.53 277.3 208.5 C279.73 208.47 280.57 209.47 282.2 209.6 C283.83 209.73 285.6 209.53 287.1 209.3 C288.6 209.07 289.3 208.3 291.2 208.2 C293.1 208.1 297.28 208.62 298.5 208.7" fill="none" stroke="#111" stroke-width="1.65" stroke-linejoin="round" stroke-linecap="round"></path><line x1="213.7" x2="299" y1="208.8" y2="208.8" stroke="#3a5cb8" stroke-width="1.3" opacity="0.85"></line></svg>
<div style="position:absolute;left:-1.5px;top:20.6px;width:30px;height:12px;line-height:12px;font-size:7.2px;color:#383838;text-align:right;white-space:nowrap"><span class="sq" style="display: inline-block; transform-origin: 100% 50%; transform: scaleX(0.86);">1.42</span></div>
<div style="position:absolute;left:-1.5px;top:36.97px;width:30px;height:12px;line-height:12px;font-size:7.2px;color:#383838;text-align:right;white-space:nowrap"><span class="sq" style="display: inline-block; transform-origin: 100% 50%; transform: scaleX(0.86);">1.30</span></div>
<div style="position:absolute;left:-1.5px;top:51.68px;width:30px;height:12px;line-height:12px;font-size:7.2px;color:#383838;text-align:right;white-space:nowrap"><span class="sq" style="display: inline-block; transform-origin: 100% 50%; transform: scaleX(0.86);">1.20</span></div>
<div style="position:absolute;left:-1.5px;top:66.39px;width:30px;height:12px;line-height:12px;font-size:7.2px;color:#383838;text-align:right;white-space:nowrap"><span class="sq" style="display: inline-block; transform-origin: 100% 50%; transform: scaleX(0.86);">1.10</span></div>
<div style="position:absolute;left:-1.5px;top:81.1px;width:30px;height:12px;line-height:12px;font-size:7.2px;color:#383838;text-align:right;white-space:nowrap"><span class="sq" style="display: inline-block; transform-origin: 100% 50%; transform: scaleX(0.86);">1.00</span></div>
<div style="position:absolute;left:-1.5px;top:95.81px;width:30px;height:12px;line-height:12px;font-size:7.2px;color:#383838;text-align:right;white-space:nowrap"><span class="sq" style="display: inline-block; transform-origin: 100% 50%; transform: scaleX(0.86);">0.90</span></div>
<div style="position:absolute;left:-1.5px;top:110.52px;width:30px;height:12px;line-height:12px;font-size:7.2px;color:#383838;text-align:right;white-space:nowrap"><span class="sq" style="display: inline-block; transform-origin: 100% 50%; transform: scaleX(0.86);">0.80</span></div>
<div style="position:absolute;left:-1.5px;top:125.23px;width:30px;height:12px;line-height:12px;font-size:7.2px;color:#383838;text-align:right;white-space:nowrap"><span class="sq" style="display: inline-block; transform-origin: 100% 50%; transform: scaleX(0.86);">0.70</span></div>
<div style="position:absolute;left:-1.5px;top:139.94px;width:30px;height:12px;line-height:12px;font-size:7.2px;color:#383838;text-align:right;white-space:nowrap"><span class="sq" style="display: inline-block; transform-origin: 100% 50%; transform: scaleX(0.86);">0.60</span></div>
<div style="position:absolute;left:-1.5px;top:154.65px;width:30px;height:12px;line-height:12px;font-size:7.2px;color:#383838;text-align:right;white-space:nowrap"><span class="sq" style="display: inline-block; transform-origin: 100% 50%; transform: scaleX(0.86);">0.50</span></div>
<div style="position:absolute;left:-1.5px;top:169.36px;width:30px;height:12px;line-height:12px;font-size:7.2px;color:#383838;text-align:right;white-space:nowrap"><span class="sq" style="display: inline-block; transform-origin: 100% 50%; transform: scaleX(0.86);">0.40</span></div>
<div style="position:absolute;left:-1.5px;top:184.07px;width:30px;height:12px;line-height:12px;font-size:7.2px;color:#383838;text-align:right;white-space:nowrap"><span class="sq" style="display: inline-block; transform-origin: 100% 50%; transform: scaleX(0.86);">0.30</span></div>
<div style="position:absolute;left:-1.5px;top:198.78px;width:30px;height:12px;line-height:12px;font-size:7.2px;color:#383838;text-align:right;white-space:nowrap"><span class="sq" style="display: inline-block; transform-origin: 100% 50%; transform: scaleX(0.86);">0.20</span></div>
<div style="position:absolute;left:-1.5px;top:213.49px;width:30px;height:12px;line-height:12px;font-size:7.2px;color:#383838;text-align:right;white-space:nowrap"><span class="sq" style="display: inline-block; transform-origin: 100% 50%; transform: scaleX(0.86);">0.10</span></div>
<div style="position:absolute;left:-1.5px;top:228.2px;width:30px;height:12px;line-height:12px;font-size:7.2px;color:#383838;text-align:right;white-space:nowrap"><span class="sq" style="display: inline-block; transform-origin: 100% 50%; transform: scaleX(0.86);">0.00</span></div>
<div style="position:absolute;left:0.3px;top:249.9px;width:30px;height:12px;line-height:12px;font-size:7.2px;color:#383838;text-align:right;white-space:nowrap"><span class="sq" style="display: inline-block; transform-origin: 100% 50%; transform: scaleX(0.86);">-0.14</span></div>
<div style="position:absolute;left:11.5px;top:139.5px;width:80px;height:10px;line-height:10px;font-size:7px;color:#404040;text-align:center;transform:translate(-40px,-5px) rotate(-90deg) scaleX(0.94);white-space:nowrap">10 mm Absorbance</div>
<div style="position:absolute;left:33px;top:256.4px;width:1px;height:2.6px;background:#555"></div>
<div style="position:absolute;left:23.5px;top:257.9px;width:20px;height:12px;line-height:12px;font-size:7.4px;color:#383838;text-align:center"><span class="sq" style="display: inline-block; transform-origin: 50% 50%; transform: scaleX(0.8);">220</span></div>
<div style="position:absolute;left:55.91px;top:256.4px;width:1px;height:2.6px;background:#555"></div>
<div style="position:absolute;left:46.41px;top:257.9px;width:20px;height:12px;line-height:12px;font-size:7.4px;color:#383838;text-align:center"><span class="sq" style="display: inline-block; transform-origin: 50% 50%; transform: scaleX(0.8);">230</span></div>
<div style="position:absolute;left:78.82px;top:256.4px;width:1px;height:2.6px;background:#555"></div>
<div style="position:absolute;left:69.32px;top:257.9px;width:20px;height:12px;line-height:12px;font-size:7.4px;color:#383838;text-align:center"><span class="sq" style="display: inline-block; transform-origin: 50% 50%; transform: scaleX(0.8);">240</span></div>
<div style="position:absolute;left:101.73px;top:256.4px;width:1px;height:2.6px;background:#555"></div>
<div style="position:absolute;left:92.23px;top:257.9px;width:20px;height:12px;line-height:12px;font-size:7.4px;color:#383838;text-align:center"><span class="sq" style="display: inline-block; transform-origin: 50% 50%; transform: scaleX(0.8);">250</span></div>
<div style="position:absolute;left:124.64px;top:256.4px;width:1px;height:2.6px;background:#555"></div>
<div style="position:absolute;left:115.14px;top:257.9px;width:20px;height:12px;line-height:12px;font-size:7.4px;color:#383838;text-align:center"><span class="sq" style="display: inline-block; transform-origin: 50% 50%; transform: scaleX(0.8);">260</span></div>
<div style="position:absolute;left:147.55px;top:256.4px;width:1px;height:2.6px;background:#555"></div>
<div style="position:absolute;left:138.05px;top:257.9px;width:20px;height:12px;line-height:12px;font-size:7.4px;color:#383838;text-align:center"><span class="sq" style="display: inline-block; transform-origin: 50% 50%; transform: scaleX(0.8);">270</span></div>
<div style="position:absolute;left:170.46px;top:256.4px;width:1px;height:2.6px;background:#555"></div>
<div style="position:absolute;left:160.96px;top:257.9px;width:20px;height:12px;line-height:12px;font-size:7.4px;color:#383838;text-align:center"><span class="sq" style="display: inline-block; transform-origin: 50% 50%; transform: scaleX(0.8);">280</span></div>
<div style="position:absolute;left:193.37px;top:256.4px;width:1px;height:2.6px;background:#555"></div>
<div style="position:absolute;left:183.87px;top:257.9px;width:20px;height:12px;line-height:12px;font-size:7.4px;color:#383838;text-align:center"><span class="sq" style="display: inline-block; transform-origin: 50% 50%; transform: scaleX(0.8);">290</span></div>
<div style="position:absolute;left:216.28px;top:256.4px;width:1px;height:2.6px;background:#555"></div>
<div style="position:absolute;left:206.78px;top:257.9px;width:20px;height:12px;line-height:12px;font-size:7.4px;color:#383838;text-align:center"><span class="sq" style="display: inline-block; transform-origin: 50% 50%; transform: scaleX(0.8);">300</span></div>
<div style="position:absolute;left:239.19px;top:256.4px;width:1px;height:2.6px;background:#555"></div>
<div style="position:absolute;left:229.69px;top:257.9px;width:20px;height:12px;line-height:12px;font-size:7.4px;color:#383838;text-align:center"><span class="sq" style="display: inline-block; transform-origin: 50% 50%; transform: scaleX(0.8);">310</span></div>
<div style="position:absolute;left:262.1px;top:256.4px;width:1px;height:2.6px;background:#555"></div>
<div style="position:absolute;left:252.6px;top:257.9px;width:20px;height:12px;line-height:12px;font-size:7.4px;color:#383838;text-align:center"><span class="sq" style="display: inline-block; transform-origin: 50% 50%; transform: scaleX(0.8);">320</span></div>
<div style="position:absolute;left:285.01px;top:256.4px;width:1px;height:2.6px;background:#555"></div>
<div style="position:absolute;left:275.51px;top:257.9px;width:20px;height:12px;line-height:12px;font-size:7.4px;color:#383838;text-align:center"><span class="sq" style="display: inline-block; transform-origin: 50% 50%; transform: scaleX(0.8);">330</span></div>
<div style="position:absolute;left:307.92px;top:256.4px;width:1px;height:2.6px;background:#555"></div>
<div style="position:absolute;left:298.42px;top:257.9px;width:20px;height:12px;line-height:12px;font-size:7.4px;color:#383838;text-align:center"><span class="sq" style="display: inline-block; transform-origin: 50% 50%; transform: scaleX(0.8);">340</span></div>
<div style="position:absolute;left:330.83px;top:256.4px;width:1px;height:2.6px;background:#555"></div>
<div style="position:absolute;left:321.33px;top:257.9px;width:20px;height:12px;line-height:12px;font-size:7.4px;color:#383838;text-align:center"><span class="sq" style="display: inline-block; transform-origin: 50% 50%; transform: scaleX(0.8);">350</span></div>
<div style="position:absolute;left:156.5px;top:266.5px;height:12px;line-height:12px;font-size:7.2px;color:#383838;white-space:pre;"><span class="sq" style="display: inline-block; transform-origin: 0px 50%; transform: scaleX(0.930104);">Wavelength nm</span></div>
<div style="position:absolute;left:61.9px;top:277.2px;width:68.5px;height:17.1px;box-sizing:border-box;border:1px solid #505050;border-radius:1px;background:linear-gradient(#e6e6e6,#c4c4c4);box-shadow:inset 1px 1px 0 #f4f4f4, inset -1px -1px 0 #9a9a9a"></div>
<div style="position:absolute;left:-3.85px;top:280.5px;width:200px;height:12px;line-height:12px;font-size:7.2px;color:#303030;white-space:pre;text-align:center;"><span class="sq" style="display: inline-block; transform-origin: 50% 50%; transform: scaleX(0.92);">Reset Baseline</span></div>
<div style="position:absolute;left:156.5px;top:278.4px;height:12px;line-height:12px;font-size:7.2px;color:#383838;white-space:pre;"><span class="sq" style="display: inline-block; transform-origin: 0px 50%; transform: scaleX(0.875978);">Cursor nm</span></div>
<div style="position:absolute;left:192.6px;top:280.5px;width:28px;height:10.1px;background:#fff;box-sizing:border-box;border-top:1px solid #606060;border-left:1px solid #606060;border-bottom:1px solid #e8e8e8;border-right:1px solid #e8e8e8"></div>
<div style="position:absolute;left:213px;top:281.5px;width:6.8px;height:4.1px;background:#c8c8c8;box-sizing:border-box;border-right:1px solid #777;border-bottom:1px solid #777"></div>
<div style="position:absolute;left:213px;top:285.6px;width:6.8px;height:4.2px;background:#c8c8c8;box-sizing:border-box;border-right:1px solid #777;border-bottom:1px solid #777"></div>
<div style="position:absolute;left:214.9px;top:282.4px;width:3px;height:2px;background:#222;clip-path:polygon(50% 0,100% 100%,0 100%)"></div>
<div style="position:absolute;left:214.9px;top:286.7px;width:3px;height:2px;background:#222;clip-path:polygon(0 0,100% 0,50% 100%)"></div>
<div style="position:absolute;left:102.55px;top:280.3px;width:200px;height:12px;line-height:12px;font-size:7.2px;color:#383838;white-space:pre;text-align:center;"><span class="sq" style="display: inline-block; transform-origin: 50% 50%; transform: scaleX(0.92);">260</span></div>
<div style="position:absolute;left:260.2px;top:279.3px;height:12px;line-height:12px;font-size:7.2px;color:#383838;white-space:pre;"><span class="sq" style="display: inline-block; transform-origin: 0px 50%; transform: scaleX(0.881198);">Cursor Abs.</span></div>
<div style="position:absolute;left:297.2px;top:279.9px;width:29.9px;height:11px;background:#fff;box-sizing:border-box;border:1px solid #c8d0e0"></div>
<div style="position:absolute;left:212.15px;top:279.5px;width:200px;height:12px;line-height:12px;font-size:7.2px;color:#383838;white-space:pre;text-align:center;"><span class="sq" style="display: inline-block; transform-origin: 50% 50%; transform: scaleX(0.92);">1.092</span></div>
<div style="position:absolute;left:334.6px;top:25.7px;width:148.2px;height:222px;background:#d3d3d3;box-sizing:border-box;border-left:1px solid #a8a8a8;border-top:1px solid #a8a8a8;overflow:hidden"><div style="position:absolute;left:0;top:8.85px;width:100%;height:1px;background:#a9a9a9"></div><div style="position:absolute;left:0;top:1px;width:100%;height:1px;background:#e4e4e4"></div><div style="position:absolute;left:0.9px;top:1px;height:8.85px;line-height:8.85px;font-size:7.2px;color:#333;white-space:nowrap"><span class="sq" style="display: inline-block; transform-origin: 0px 50%; transform: scaleX(0.92);">Sample ID</span></div><div style="position:absolute;left:66.4px;top:1px;height:8.85px;line-height:8.85px;font-size:7.2px;color:#333;white-space:pre"><span class="sq" style="display: inline-block; transform-origin: 0px 50%; transform: scaleX(0.92);">50ng/ul in 0.01% GTC</span></div><div style="position:absolute;left:0;top:17.7px;width:100%;height:1px;background:#a9a9a9"></div><div style="position:absolute;left:0;top:9.85px;width:100%;height:1px;background:#e4e4e4"></div><div style="position:absolute;left:0.9px;top:9.85px;height:8.85px;line-height:8.85px;font-size:7.2px;color:#333;white-space:nowrap"><span class="sq" style="display: inline-block; transform-origin: 0px 50%; transform: scaleX(0.92);">User ID</span></div><div style="position:absolute;left:66.4px;top:9.85px;height:8.85px;line-height:8.85px;font-size:7.2px;color:#333;white-space:pre"><span class="sq" style="display: inline-block; transform-origin: 0px 50%; transform: scaleX(0.92);">Default</span></div><div style="position:absolute;left:0;top:26.55px;width:100%;height:1px;background:#a9a9a9"></div><div style="position:absolute;left:0;top:18.7px;width:100%;height:1px;background:#e4e4e4"></div><div style="position:absolute;left:0.9px;top:18.7px;height:8.85px;line-height:8.85px;font-size:7.2px;color:#333;white-space:nowrap"><span class="sq" style="display: inline-block; transform-origin: 0px 50%; transform: scaleX(0.92);">Date</span></div><div style="position:absolute;left:66.4px;top:18.7px;height:8.85px;line-height:8.85px;font-size:7.2px;color:#333;white-space:pre"><span class="sq" style="display: inline-block; transform-origin: 0px 50%; transform: scaleX(0.92);">3/26/2012</span></div><div style="position:absolute;left:0;top:35.4px;width:100%;height:1px;background:#a9a9a9"></div><div style="position:absolute;left:0;top:27.55px;width:100%;height:1px;background:#e4e4e4"></div><div style="position:absolute;left:0.9px;top:27.55px;height:8.85px;line-height:8.85px;font-size:7.2px;color:#333;white-space:nowrap"><span class="sq" style="display: inline-block; transform-origin: 0px 50%; transform: scaleX(0.92);">Time</span></div><div style="position:absolute;left:66.4px;top:27.55px;height:8.85px;line-height:8.85px;font-size:7.2px;color:#333;white-space:pre"><span class="sq" style="display: inline-block; transform-origin: 0px 50%; transform: scaleX(0.92);">1:09 PM</span></div><div style="position:absolute;left:0;top:44.25px;width:100%;height:1px;background:#a9a9a9"></div><div style="position:absolute;left:0;top:36.4px;width:100%;height:1px;background:#e4e4e4"></div><div style="position:absolute;left:0.9px;top:36.4px;height:8.85px;line-height:8.85px;font-size:7.2px;color:#333;white-space:nowrap"><span class="sq" style="display: inline-block; transform-origin: 0px 50%; transform: scaleX(0.92);">ng/ul</span></div><div style="position:absolute;left:66.4px;top:36.4px;height:8.85px;line-height:8.85px;font-size:7.2px;color:#333;white-space:pre"><span class="sq" style="display: inline-block; transform-origin: 0px 50%; transform: scaleX(0.92);"> 43.79</span></div><div style="position:absolute;left:0;top:53.1px;width:100%;height:1px;background:#a9a9a9"></div><div style="position:absolute;left:0;top:45.25px;width:100%;height:1px;background:#e4e4e4"></div><div style="position:absolute;left:0.9px;top:45.25px;height:8.85px;line-height:8.85px;font-size:7.2px;color:#333;white-space:nowrap"><span class="sq" style="display: inline-block; transform-origin: 0px 50%; transform: scaleX(0.92);">A260</span></div><div style="position:absolute;left:66.4px;top:45.25px;height:8.85px;line-height:8.85px;font-size:7.2px;color:#333;white-space:pre"><span class="sq" style="display: inline-block; transform-origin: 0px 50%; transform: scaleX(0.92);"> 1.095</span></div><div style="position:absolute;left:0;top:61.95px;width:100%;height:1px;background:#a9a9a9"></div><div style="position:absolute;left:0;top:54.1px;width:100%;height:1px;background:#e4e4e4"></div><div style="position:absolute;left:0.9px;top:54.1px;height:8.85px;line-height:8.85px;font-size:7.2px;color:#333;white-space:nowrap"><span class="sq" style="display: inline-block; transform-origin: 0px 50%; transform: scaleX(0.92);">A280</span></div><div style="position:absolute;left:66.4px;top:54.1px;height:8.85px;line-height:8.85px;font-size:7.2px;color:#333;white-space:pre"><span class="sq" style="display: inline-block; transform-origin: 0px 50%; transform: scaleX(0.92);"> 0.585</span></div><div style="position:absolute;left:0;top:70.8px;width:100%;height:1px;background:#a9a9a9"></div><div style="position:absolute;left:0;top:62.95px;width:100%;height:1px;background:#e4e4e4"></div><div style="position:absolute;left:0.9px;top:62.95px;height:8.85px;line-height:8.85px;font-size:7.2px;color:#333;white-space:nowrap"><span class="sq" style="display: inline-block; transform-origin: 0px 50%; transform: scaleX(0.92);">260/280</span></div><div style="position:absolute;left:66.4px;top:62.95px;height:8.85px;line-height:8.85px;font-size:7.2px;color:#333;white-space:pre"><span class="sq" style="display: inline-block; transform-origin: 0px 50%; transform: scaleX(0.92);">  1.87</span></div><div style="position:absolute;left:0;top:79.65px;width:100%;height:1px;background:#a9a9a9"></div><div style="position:absolute;left:0;top:71.8px;width:100%;height:1px;background:#e4e4e4"></div><div style="position:absolute;left:0.9px;top:71.8px;height:8.85px;line-height:8.85px;font-size:7.2px;color:#333;white-space:nowrap"><span class="sq" style="display: inline-block; transform-origin: 0px 50%; transform: scaleX(0.92);">260/230</span></div><div style="position:absolute;left:66.4px;top:71.8px;height:8.85px;line-height:8.85px;font-size:7.2px;color:#333;white-space:pre"><span class="sq" style="display: inline-block; transform-origin: 0px 50%; transform: scaleX(0.92);">  1.16</span></div><div style="position:absolute;left:0;top:88.5px;width:100%;height:1px;background:#a9a9a9"></div><div style="position:absolute;left:0;top:80.65px;width:100%;height:1px;background:#e4e4e4"></div><div style="position:absolute;left:0.9px;top:80.65px;height:8.85px;line-height:8.85px;font-size:7.2px;color:#333;white-space:nowrap"><span class="sq" style="display: inline-block; transform-origin: 0px 50%; transform: scaleX(0.92);">Constant</span></div><div style="position:absolute;left:66.4px;top:80.65px;height:8.85px;line-height:8.85px;font-size:7.2px;color:#333;white-space:pre"><span class="sq" style="display: inline-block; transform-origin: 0px 50%; transform: scaleX(0.92);"> 40.00</span></div><div style="position:absolute;left:0;top:97.35px;width:100%;height:1px;background:#a9a9a9"></div><div style="position:absolute;left:0;top:89.5px;width:100%;height:1px;background:#e4e4e4"></div><div style="position:absolute;left:0.9px;top:89.5px;height:8.85px;line-height:8.85px;font-size:7.2px;color:#333;white-space:nowrap"><span class="sq" style="display: inline-block; transform-origin: 0px 50%; transform: scaleX(0.92);">Cursor Pos.</span></div><div style="position:absolute;left:66.4px;top:89.5px;height:8.85px;line-height:8.85px;font-size:7.2px;color:#333;white-space:pre"><span class="sq" style="display: inline-block; transform-origin: 0px 50%; transform: scaleX(0.92);"> 230</span></div><div style="position:absolute;left:0;top:106.2px;width:100%;height:1px;background:#a9a9a9"></div><div style="position:absolute;left:0;top:98.35px;width:100%;height:1px;background:#e4e4e4"></div><div style="position:absolute;left:0.9px;top:98.35px;height:8.85px;line-height:8.85px;font-size:7.2px;color:#333;white-space:nowrap"><span class="sq" style="display: inline-block; transform-origin: 0px 50%; transform: scaleX(0.92);">Cursor abs.</span></div><div style="position:absolute;left:66.4px;top:98.35px;height:8.85px;line-height:8.85px;font-size:7.2px;color:#333;white-space:pre"><span class="sq" style="display: inline-block; transform-origin: 0px 50%; transform: scaleX(0.92);"> 0.941</span></div><div style="position:absolute;left:0;top:115.05px;width:100%;height:1px;background:#a9a9a9"></div><div style="position:absolute;left:0;top:107.2px;width:100%;height:1px;background:#e4e4e4"></div><div style="position:absolute;left:0.9px;top:107.2px;height:8.85px;line-height:8.85px;font-size:7.2px;color:#333;white-space:nowrap"><span class="sq" style="display: inline-block; transform-origin: 0px 50%; transform: scaleX(0.92);">340 raw</span></div><div style="position:absolute;left:66.4px;top:107.2px;height:8.85px;line-height:8.85px;font-size:7.2px;color:#333;white-space:pre"><span class="sq" style="display: inline-block; transform-origin: 0px 50%; transform: scaleX(0.92);"> 0.010</span></div><div style="position:absolute;left:0;top:123.9px;width:100%;height:1px;background:#a9a9a9"></div><div style="position:absolute;left:0;top:116.05px;width:100%;height:1px;background:#e4e4e4"></div><div style="position:absolute;left:0.9px;top:116.05px;height:8.85px;line-height:8.85px;font-size:7.2px;color:#333;white-space:nowrap"><span class="sq" style="display: inline-block; transform-origin: 0px 50%; transform: scaleX(0.92);">Measurement Type</span></div><div style="position:absolute;left:66.4px;top:116.05px;height:8.85px;line-height:8.85px;font-size:7.2px;color:#333;white-space:pre"><span class="sq" style="display: inline-block; transform-origin: 0px 50%; transform: scaleX(0.92);">Measure</span></div><div style="position:absolute;left:0;top:132.75px;width:100%;height:1px;background:#a9a9a9"></div><div style="position:absolute;left:0;top:124.9px;width:100%;height:1px;background:#e4e4e4"></div><div style="position:absolute;left:0.9px;top:124.9px;height:8.85px;line-height:8.85px;font-size:7.2px;color:#333;white-space:nowrap"><span class="sq" style="display: inline-block; transform-origin: 0px 50%; transform: scaleX(0.92);">Serial #</span></div><div style="position:absolute;left:66.4px;top:124.9px;height:8.85px;line-height:8.85px;font-size:7.2px;color:#333;white-space:pre"><span class="sq" style="display: inline-block; transform-origin: 0px 50%; transform: scaleX(0.92);">USB2G27725BB690</span></div><div style="position:absolute;left:0;top:141.6px;width:100%;height:1px;background:#a9a9a9"></div><div style="position:absolute;left:0;top:133.75px;width:100%;height:1px;background:#e4e4e4"></div><div style="position:absolute;left:0.9px;top:133.75px;height:8.85px;line-height:8.85px;font-size:7.2px;color:#333;white-space:nowrap"><span class="sq" style="display: inline-block; transform-origin: 0px 50%; transform: scaleX(0.92);">Config.</span></div><div style="position:absolute;left:66.4px;top:133.75px;height:8.85px;line-height:8.85px;font-size:7.2px;color:#333;white-space:pre"><span class="sq" style="display: inline-block; transform-origin: 0px 50%; transform: scaleX(0.92);">0.994100/-0.16/96/24</span></div><div style="position:absolute;left:0;top:150.45px;width:100%;height:1px;background:#a9a9a9"></div><div style="position:absolute;left:0;top:142.6px;width:100%;height:1px;background:#e4e4e4"></div><div style="position:absolute;left:0;top:159.3px;width:100%;height:1px;background:#a9a9a9"></div><div style="position:absolute;left:0;top:151.45px;width:100%;height:1px;background:#e4e4e4"></div><div style="position:absolute;left:0;top:168.15px;width:100%;height:1px;background:#a9a9a9"></div><div style="position:absolute;left:0;top:160.3px;width:100%;height:1px;background:#e4e4e4"></div><div style="position:absolute;left:0;top:177px;width:100%;height:1px;background:#a9a9a9"></div><div style="position:absolute;left:0;top:169.15px;width:100%;height:1px;background:#e4e4e4"></div><div style="position:absolute;left:0;top:185.85px;width:100%;height:1px;background:#a9a9a9"></div><div style="position:absolute;left:0;top:178px;width:100%;height:1px;background:#e4e4e4"></div><div style="position:absolute;left:0;top:194.7px;width:100%;height:1px;background:#a9a9a9"></div><div style="position:absolute;left:0;top:186.85px;width:100%;height:1px;background:#e4e4e4"></div><div style="position:absolute;left:0;top:203.55px;width:100%;height:1px;background:#a9a9a9"></div><div style="position:absolute;left:0;top:195.7px;width:100%;height:1px;background:#e4e4e4"></div><div style="position:absolute;left:0;top:212.4px;width:100%;height:1px;background:#a9a9a9"></div><div style="position:absolute;left:0;top:204.55px;width:100%;height:1px;background:#e4e4e4"></div><div style="position:absolute;left:0;top:221.25px;width:100%;height:1px;background:#a9a9a9"></div><div style="position:absolute;left:0;top:213.4px;width:100%;height:1px;background:#e4e4e4"></div><div style="position:absolute;left:0;top:230.1px;width:100%;height:1px;background:#a9a9a9"></div><div style="position:absolute;left:0;top:222.25px;width:100%;height:1px;background:#e4e4e4"></div><div style="position:absolute;left:64.2px;top:0;width:1px;height:100%;background:#8c8c8c"></div><div style="position:absolute;left:147.2px;top:0;width:1px;height:100%;background:#8c8c8c"></div></div>
<div style="position:absolute;left:334.6px;top:247.7px;width:148.2px;height:9.3px;background:#b4b4b4;border-top:1px solid #999;box-sizing:border-box"></div>
<div style="position:absolute;left:335.1px;top:248px;width:10px;height:8.8px;background:#cfcfcf;box-sizing:border-box;border-right:1px solid #888;border-bottom:1px solid #888"></div>
<div style="position:absolute;left:337.9px;top:250.2px;width:3px;height:4.6px;background:#111;clip-path:polygon(0 50%,100% 0,100% 100%)"></div>
<div style="position:absolute;left:345.1px;top:248.2px;width:84.3px;height:8.6px;background:linear-gradient(#d4d4d4,#a8a8a8);box-sizing:border-box;border-left:1px solid #555;border-right:1px solid #555;border-bottom:1px solid #777"></div>
<div style="position:absolute;left:472.1px;top:248px;width:10px;height:8.8px;background:#cfcfcf;box-sizing:border-box;border-right:1px solid #888;border-bottom:1px solid #888"></div>
<div style="position:absolute;left:475.9px;top:250.2px;width:3px;height:4.6px;background:#111;clip-path:polygon(0 0,100% 50%,0 100%)"></div>
</div>
<div style="position:absolute;left:726px;top:48.1px;width:139.1px;height:76.8px;background:#fff;box-sizing:border-box;border:1.4px solid #8a8a8a"></div>
<div style="position:absolute;left:730px;top:52.11px;width:130.7px;height:20px;line-height:20px;font-size:19.6px;font-weight:bold;color:#111;white-space:nowrap;-webkit-text-stroke:0.5px #111"><span class="sq" style="display: inline-block; transform-origin: 0px 50%; transform: scaleX(0.785353);">RNA + 0.01% GTC</span></div>
<div style="position:absolute;left:740.7px;top:76.8px;height:16.3px;line-height:16.3px;font-size:16.3px;color:#262626;white-space:nowrap"><span class="sq ratio" style="display: inline-block; transform-origin: 0px 50%; transform: scaleX(0.983113);">A<sub>260</sub>/A<sub>280</sub> = 1.87</span></div>
<div style="position:absolute;left:740.7px;top:102.1px;height:16.3px;line-height:16.3px;font-size:16.3px;color:#262626;white-space:nowrap"><span class="sq ratio" style="display: inline-block; transform-origin: 0px 50%; transform: scaleX(0.988694);">A<sub>260</sub>/A<sub>230</sub> = 1.16</span></div>
<div style="position:absolute;left:22.9px;top:351.1px;width:479.7px;height:300px;background:#e0e0e0;overflow:hidden">
<div style="position:absolute;left:21.16px;top:-0.93px;width:485.15px;height:1.83px;background:#f4f4f4"></div>
<div style="position:absolute;left:20.45px;top:-1.13px;width:1.12px;height:2.85px;background:#777"></div>
<div style="position:absolute;left:49.85px;top:-1.13px;width:1.01px;height:1.42px;background:#aaa"></div>
<div style="position:absolute;left:24px;top:6.48px;height:12px;line-height:12px;font-size:7.2px;color:#383838;white-space:pre;"><span class="sq" style="display: inline-block; transform-origin: 0px 50%; transform: scaleX(0.95615);">Selected plot</span></div>
<div style="position:absolute;left:66.28px;top:6.49px;width:89.02px;height:10.37px;background:#fff;box-sizing:border-box;border-top:1px solid #606060;border-left:1px solid #606060;border-bottom:1px solid #e8e8e8;border-right:1px solid #e8e8e8"></div>
<div style="position:absolute;left:147.69px;top:7.51px;width:6.79px;height:8.44px;background:#c4c4c4;box-sizing:border-box;border-right:1px solid #808080;border-bottom:1px solid #808080"></div>
<div style="position:absolute;left:149.42px;top:10.46px;width:3.45px;height:2.44px;background:#111;clip-path:polygon(0 0,100% 0,50% 100%)"></div>
<div style="position:absolute;left:7.34px;top:6.48px;width:200px;height:12px;line-height:12px;font-size:7.2px;color:#383838;white-space:pre;text-align:center;"><span class="sq" style="display: inline-block; transform-origin: 50% 50%; transform: scaleX(0.92);">50ng/ul in 5% EtOH</span></div>
<div style="position:absolute;left:168.58px;top:6.89px;height:12px;line-height:12px;font-size:7.2px;color:#383838;white-space:pre;"><span class="sq" style="display: inline-block; transform-origin: 0px 50%; transform: scaleX(0.94453);">Plots/Set</span></div>
<div style="position:absolute;left:199.1px;top:6.49px;width:28.19px;height:10.37px;background:#fff;box-sizing:border-box;border-top:1px solid #606060;border-left:1px solid #606060;border-bottom:1px solid #e8e8e8;border-right:1px solid #e8e8e8"></div>
<div style="position:absolute;left:219.58px;top:7.51px;width:6.89px;height:4.17px;background:#c8c8c8;box-sizing:border-box;border-right:1px solid #777;border-bottom:1px solid #777"></div>
<div style="position:absolute;left:219.58px;top:11.68px;width:6.89px;height:4.27px;background:#c8c8c8;box-sizing:border-box;border-right:1px solid #777;border-bottom:1px solid #777"></div>
<div style="position:absolute;left:221.6px;top:8.42px;width:3.04px;height:2.03px;background:#222;clip-path:polygon(50% 0,100% 100%,0 100%)"></div>
<div style="position:absolute;left:221.6px;top:12.9px;width:3.04px;height:2.03px;background:#222;clip-path:polygon(0 0,100% 0,50% 100%)"></div>
<div style="position:absolute;left:109.13px;top:6.48px;width:200px;height:12px;line-height:12px;font-size:7.2px;color:#383838;white-space:pre;text-align:center;"><span class="sq" style="display: inline-block; transform-origin: 50% 50%; transform: scaleX(0.92);">1</span></div>
<div style="position:absolute;left:259.32px;top:6.49px;width:27.88px;height:10.37px;background:#fff;box-sizing:border-box;border-top:1px solid #606060;border-left:1px solid #606060;border-bottom:1px solid #e8e8e8;border-right:1px solid #e8e8e8"></div>
<div style="position:absolute;left:279.5px;top:7.51px;width:6.89px;height:4.17px;background:#c8c8c8;box-sizing:border-box;border-right:1px solid #777;border-bottom:1px solid #777"></div>
<div style="position:absolute;left:279.5px;top:11.68px;width:6.89px;height:4.27px;background:#c8c8c8;box-sizing:border-box;border-right:1px solid #777;border-bottom:1px solid #777"></div>
<div style="position:absolute;left:281.53px;top:8.42px;width:3.04px;height:2.03px;background:#222;clip-path:polygon(50% 0,100% 100%,0 100%)"></div>
<div style="position:absolute;left:281.53px;top:12.9px;width:3.04px;height:2.03px;background:#222;clip-path:polygon(0 0,100% 0,50% 100%)"></div>
<div style="position:absolute;left:169.21px;top:6.48px;width:200px;height:12px;line-height:12px;font-size:7.2px;color:#383838;white-space:pre;text-align:center;"><span class="sq" style="display: inline-block; transform-origin: 50% 50%; transform: scaleX(0.92);">18</span></div>
<div style="position:absolute;left:233.97px;top:6.89px;height:12px;line-height:12px;font-size:7.2px;color:#383838;white-space:pre;"><span class="sq" style="display: inline-block; transform-origin: 0px 50%; transform: scaleX(0.918485);">Plot Set</span></div>
<div style="position:absolute;left:303.73px;top:5.58px;width:32.14px;height:11.59px;background:#fff;box-sizing:border-box;border:1px solid #404040;border-top-color:#808080;border-left-color:#808080"></div>
<div style="position:absolute;left:219.8px;top:6.28px;width:200px;height:12px;line-height:12px;font-size:7.2px;color:#303030;white-space:pre;text-align:center;"><span class="sq" style="display: inline-block; transform-origin: 50% 50%; transform: scaleX(0.92);">Legend</span></div>
<div style="position:absolute;left:303.9px;top:14.21px;width:200px;height:12px;line-height:12px;font-size:7.2px;color:#383838;white-space:pre;text-align:center;"><span class="sq" style="display: inline-block; transform-origin: 50% 50%; transform: scaleX(0.92);">Sample Information</span></div>
<svg width="303.3" height="234.6" style="position:absolute;left:32.4px;top:24.5px;overflow:visible"><rect x="0" y="0" width="303.3" height="234.6" fill="#fff"></rect><line x1="0" x2="303.3" y1="230" y2="230" stroke="#b3dc9c" stroke-width="1.2"></line><line x1="0" x2="303.3" y1="212.5" y2="212.5" stroke="#3a5cb8" stroke-width="1.3"></line><line x1="0" x2="303.3" y1="195" y2="195" stroke="#b3dc9c" stroke-width="1.2"></line><line x1="0" x2="303.3" y1="177.5" y2="177.5" stroke="#b3dc9c" stroke-width="1.2"></line><line x1="0" x2="303.3" y1="160" y2="160" stroke="#b3dc9c" stroke-width="1.2"></line><line x1="0" x2="303.3" y1="142.5" y2="142.5" stroke="#b3dc9c" stroke-width="1.2"></line><line x1="0" x2="303.3" y1="125" y2="125" stroke="#b3dc9c" stroke-width="1.2"></line><line x1="0" x2="303.3" y1="107.5" y2="107.5" stroke="#b3dc9c" stroke-width="1.2"></line><line x1="0" x2="303.3" y1="90" y2="90" stroke="#b3dc9c" stroke-width="1.2"></line><line x1="0" x2="303.3" y1="72.5" y2="72.5" stroke="#b3dc9c" stroke-width="1.2"></line><line x1="0" x2="303.3" y1="55" y2="55" stroke="#b3dc9c" stroke-width="1.2"></line><line x1="0" x2="303.3" y1="37.5" y2="37.5" stroke="#b3dc9c" stroke-width="1.2"></line><line x1="0" x2="303.3" y1="20" y2="20" stroke="#b3dc9c" stroke-width="1.2"></line><line x1="0" x2="303.3" y1="2.5" y2="2.5" stroke="#b3dc9c" stroke-width="1.2"></line><path d="M0.5 234.6 V0.5 H303.3" fill="none" stroke="#a0a0a0" stroke-width="1"></path><line x1="94.02" x2="94.02" y1="0" y2="234.6" stroke="#1a1a1a" stroke-width="1.15"></line><path d="M0.5 89.6 C0.87 90.5 1.93 92.88 2.7 95 C3.47 97.12 4.25 99.72 5.1 102.3 C5.95 104.88 6.9 108 7.8 110.5 C8.7 113 9.43 115.77 10.5 117.3 C11.57 118.83 12.98 118.85 14.2 119.7 C15.42 120.55 16.28 121.58 17.8 122.4 C19.32 123.22 21.62 124.45 23.3 124.6 C24.98 124.75 26.23 123.67 27.9 123.3 C29.57 122.93 31.78 123.32 33.3 122.4 C34.82 121.48 35.78 119.32 37 117.8 C38.22 116.28 39.38 115.88 40.6 113.3 C41.82 110.72 43.08 105.95 44.3 102.3 C45.52 98.65 46.7 94.43 47.9 91.4 C49.1 88.37 50.43 86.53 51.5 84.1 C52.57 81.67 53.38 79.53 54.3 76.8 C55.22 74.07 55.93 70.28 57 67.7 C58.07 65.12 59.48 63.42 60.7 61.3 C61.92 59.18 63.1 57.73 64.3 55 C65.5 52.27 66.53 47.75 67.9 44.9 C69.27 42.05 71.25 40.17 72.5 37.9 C73.75 35.63 74.3 33.47 75.4 31.3 C76.5 29.13 77.88 26.58 79.1 24.9 C80.32 23.22 81.33 21.97 82.7 21.2 C84.07 20.43 85.78 20.45 87.3 20.3 C88.82 20.15 90.28 20.15 91.8 20.3 C93.32 20.45 94.88 20.58 96.4 21.2 C97.92 21.82 99.53 22.93 100.9 24 C102.27 25.07 103.38 25.78 104.6 27.6 C105.82 29.42 106.98 32.47 108.2 34.9 C109.42 37.33 110.53 39.62 111.9 42.2 C113.27 44.78 114.88 47.67 116.4 50.4 C117.92 53.13 119.48 55.27 121 58.6 C122.52 61.93 124.28 67.52 125.5 70.4 C126.72 73.28 127.23 73.47 128.3 75.9 C129.37 78.33 130.53 81.65 131.9 85 C133.27 88.35 135.13 92.5 136.5 96 C137.87 99.5 138.73 102.82 140.1 106 C141.47 109.18 143.5 112.73 144.7 115.1 C145.9 117.47 146.37 117.97 147.3 120.2 C148.23 122.43 149.17 125.85 150.3 128.5 C151.43 131.15 152.83 133.18 154.1 136.1 C155.37 139.02 156.63 143.33 157.9 146 C159.17 148.67 160.43 149.82 161.7 152.1 C162.97 154.38 163.85 156.67 165.5 159.7 C167.15 162.73 169.57 167.13 171.6 170.3 C173.63 173.47 175.42 175.67 177.7 178.7 C179.98 181.73 182.77 185.6 185.3 188.5 C187.83 191.4 190.37 193.68 192.9 196.1 C195.43 198.52 197.97 200.88 200.5 203 C203.03 205.12 205.83 207.48 208.1 208.8 C210.37 210.12 211.83 210.43 214.1 210.9 C216.37 211.37 218.4 211.48 221.7 211.6 C225 211.72 230.42 211.62 233.9 211.6 C237.38 211.58 239.65 211.3 242.6 211.5 C245.55 211.7 248.07 212.52 251.6 212.8 C255.13 213.08 260.28 213.33 263.8 213.2 C267.32 213.07 269.72 212.13 272.7 212 C275.68 211.87 278.85 212.17 281.7 212.4 C284.55 212.63 287.08 213.15 289.8 213.4 C292.52 213.65 295.88 213.9 298 213.9 C300.12 213.9 301.75 213.48 302.5 213.4" fill="none" stroke="#111" stroke-width="1.65" stroke-linejoin="round" stroke-linecap="round"></path><line x1="229.7" x2="303.3" y1="212.5" y2="212.5" stroke="#3a5cb8" stroke-width="1.3" opacity="0.85"></line></svg>
<div style="position:absolute;left:-2.2px;top:19.7px;width:30px;height:12px;line-height:12px;font-size:7.2px;color:#383838;text-align:right;white-space:nowrap"><span class="sq" style="display: inline-block; transform-origin: 100% 50%; transform: scaleX(0.86);">1.21</span></div>
<div style="position:absolute;left:-2.2px;top:38.5px;width:30px;height:12px;line-height:12px;font-size:7.2px;color:#383838;text-align:right;white-space:nowrap"><span class="sq" style="display: inline-block; transform-origin: 100% 50%; transform: scaleX(0.86);">1.10</span></div>
<div style="position:absolute;left:-2.2px;top:56px;width:30px;height:12px;line-height:12px;font-size:7.2px;color:#383838;text-align:right;white-space:nowrap"><span class="sq" style="display: inline-block; transform-origin: 100% 50%; transform: scaleX(0.86);">1.00</span></div>
<div style="position:absolute;left:-2.2px;top:73.5px;width:30px;height:12px;line-height:12px;font-size:7.2px;color:#383838;text-align:right;white-space:nowrap"><span class="sq" style="display: inline-block; transform-origin: 100% 50%; transform: scaleX(0.86);">0.90</span></div>
<div style="position:absolute;left:-2.2px;top:91px;width:30px;height:12px;line-height:12px;font-size:7.2px;color:#383838;text-align:right;white-space:nowrap"><span class="sq" style="display: inline-block; transform-origin: 100% 50%; transform: scaleX(0.86);">0.80</span></div>
<div style="position:absolute;left:-2.2px;top:108.5px;width:30px;height:12px;line-height:12px;font-size:7.2px;color:#383838;text-align:right;white-space:nowrap"><span class="sq" style="display: inline-block; transform-origin: 100% 50%; transform: scaleX(0.86);">0.70</span></div>
<div style="position:absolute;left:-2.2px;top:126px;width:30px;height:12px;line-height:12px;font-size:7.2px;color:#383838;text-align:right;white-space:nowrap"><span class="sq" style="display: inline-block; transform-origin: 100% 50%; transform: scaleX(0.86);">0.60</span></div>
<div style="position:absolute;left:-2.2px;top:143.5px;width:30px;height:12px;line-height:12px;font-size:7.2px;color:#383838;text-align:right;white-space:nowrap"><span class="sq" style="display: inline-block; transform-origin: 100% 50%; transform: scaleX(0.86);">0.50</span></div>
<div style="position:absolute;left:-2.2px;top:161px;width:30px;height:12px;line-height:12px;font-size:7.2px;color:#383838;text-align:right;white-space:nowrap"><span class="sq" style="display: inline-block; transform-origin: 100% 50%; transform: scaleX(0.86);">0.40</span></div>
<div style="position:absolute;left:-2.2px;top:178.5px;width:30px;height:12px;line-height:12px;font-size:7.2px;color:#383838;text-align:right;white-space:nowrap"><span class="sq" style="display: inline-block; transform-origin: 100% 50%; transform: scaleX(0.86);">0.30</span></div>
<div style="position:absolute;left:-2.2px;top:196px;width:30px;height:12px;line-height:12px;font-size:7.2px;color:#383838;text-align:right;white-space:nowrap"><span class="sq" style="display: inline-block; transform-origin: 100% 50%; transform: scaleX(0.86);">0.20</span></div>
<div style="position:absolute;left:-2.2px;top:213.5px;width:30px;height:12px;line-height:12px;font-size:7.2px;color:#383838;text-align:right;white-space:nowrap"><span class="sq" style="display: inline-block; transform-origin: 100% 50%; transform: scaleX(0.86);">0.10</span></div>
<div style="position:absolute;left:-2.2px;top:231px;width:30px;height:12px;line-height:12px;font-size:7.2px;color:#383838;text-align:right;white-space:nowrap"><span class="sq" style="display: inline-block; transform-origin: 100% 50%; transform: scaleX(0.86);">0.00</span></div>
<div style="position:absolute;left:-0.4px;top:252.6px;width:30px;height:12px;line-height:12px;font-size:7.2px;color:#383838;text-align:right;white-space:nowrap"><span class="sq" style="display: inline-block; transform-origin: 100% 50%; transform: scaleX(0.86);">-0.12</span></div>
<div style="position:absolute;left:10.51px;top:140.4px;width:80px;height:10px;line-height:10px;font-size:7px;color:#404040;text-align:center;transform:translate(-40px,-5px) rotate(-90deg) scaleX(0.94);white-space:nowrap">10 mm Absorbance</div>
<div style="position:absolute;left:32.3px;top:259.1px;width:1px;height:2.6px;background:#555"></div>
<div style="position:absolute;left:22.8px;top:261.01px;width:20px;height:12px;line-height:12px;font-size:7.4px;color:#383838;text-align:center"><span class="sq" style="display: inline-block; transform-origin: 50% 50%; transform: scaleX(0.8);">220</span></div>
<div style="position:absolute;left:55.53px;top:259.1px;width:1px;height:2.6px;background:#555"></div>
<div style="position:absolute;left:46.03px;top:261.01px;width:20px;height:12px;line-height:12px;font-size:7.4px;color:#383838;text-align:center"><span class="sq" style="display: inline-block; transform-origin: 50% 50%; transform: scaleX(0.8);">230</span></div>
<div style="position:absolute;left:78.76px;top:259.1px;width:1px;height:2.6px;background:#555"></div>
<div style="position:absolute;left:69.26px;top:261.01px;width:20px;height:12px;line-height:12px;font-size:7.4px;color:#383838;text-align:center"><span class="sq" style="display: inline-block; transform-origin: 50% 50%; transform: scaleX(0.8);">240</span></div>
<div style="position:absolute;left:101.99px;top:259.1px;width:1px;height:2.6px;background:#555"></div>
<div style="position:absolute;left:92.49px;top:261.01px;width:20px;height:12px;line-height:12px;font-size:7.4px;color:#383838;text-align:center"><span class="sq" style="display: inline-block; transform-origin: 50% 50%; transform: scaleX(0.8);">250</span></div>
<div style="position:absolute;left:125.22px;top:259.1px;width:1px;height:2.6px;background:#555"></div>
<div style="position:absolute;left:115.72px;top:261.01px;width:20px;height:12px;line-height:12px;font-size:7.4px;color:#383838;text-align:center"><span class="sq" style="display: inline-block; transform-origin: 50% 50%; transform: scaleX(0.8);">260</span></div>
<div style="position:absolute;left:148.45px;top:259.1px;width:1px;height:2.6px;background:#555"></div>
<div style="position:absolute;left:138.95px;top:261.01px;width:20px;height:12px;line-height:12px;font-size:7.4px;color:#383838;text-align:center"><span class="sq" style="display: inline-block; transform-origin: 50% 50%; transform: scaleX(0.8);">270</span></div>
<div style="position:absolute;left:171.68px;top:259.1px;width:1px;height:2.6px;background:#555"></div>
<div style="position:absolute;left:162.18px;top:261.01px;width:20px;height:12px;line-height:12px;font-size:7.4px;color:#383838;text-align:center"><span class="sq" style="display: inline-block; transform-origin: 50% 50%; transform: scaleX(0.8);">280</span></div>
<div style="position:absolute;left:194.91px;top:259.1px;width:1px;height:2.6px;background:#555"></div>
<div style="position:absolute;left:185.41px;top:261.01px;width:20px;height:12px;line-height:12px;font-size:7.4px;color:#383838;text-align:center"><span class="sq" style="display: inline-block; transform-origin: 50% 50%; transform: scaleX(0.8);">290</span></div>
<div style="position:absolute;left:218.14px;top:259.1px;width:1px;height:2.6px;background:#555"></div>
<div style="position:absolute;left:208.64px;top:261.01px;width:20px;height:12px;line-height:12px;font-size:7.4px;color:#383838;text-align:center"><span class="sq" style="display: inline-block; transform-origin: 50% 50%; transform: scaleX(0.8);">300</span></div>
<div style="position:absolute;left:241.37px;top:259.1px;width:1px;height:2.6px;background:#555"></div>
<div style="position:absolute;left:231.87px;top:261.01px;width:20px;height:12px;line-height:12px;font-size:7.4px;color:#383838;text-align:center"><span class="sq" style="display: inline-block; transform-origin: 50% 50%; transform: scaleX(0.8);">310</span></div>
<div style="position:absolute;left:264.6px;top:259.1px;width:1px;height:2.6px;background:#555"></div>
<div style="position:absolute;left:255.1px;top:261.01px;width:20px;height:12px;line-height:12px;font-size:7.4px;color:#383838;text-align:center"><span class="sq" style="display: inline-block; transform-origin: 50% 50%; transform: scaleX(0.8);">320</span></div>
<div style="position:absolute;left:287.83px;top:259.1px;width:1px;height:2.6px;background:#555"></div>
<div style="position:absolute;left:278.33px;top:261.01px;width:20px;height:12px;line-height:12px;font-size:7.4px;color:#383838;text-align:center"><span class="sq" style="display: inline-block; transform-origin: 50% 50%; transform: scaleX(0.8);">330</span></div>
<div style="position:absolute;left:311.06px;top:259.1px;width:1px;height:2.6px;background:#555"></div>
<div style="position:absolute;left:301.56px;top:261.01px;width:20px;height:12px;line-height:12px;font-size:7.4px;color:#383838;text-align:center"><span class="sq" style="display: inline-block; transform-origin: 50% 50%; transform: scaleX(0.8);">340</span></div>
<div style="position:absolute;left:334.29px;top:259.1px;width:1px;height:2.6px;background:#555"></div>
<div style="position:absolute;left:324.79px;top:261.01px;width:20px;height:12px;line-height:12px;font-size:7.4px;color:#383838;text-align:center"><span class="sq" style="display: inline-block; transform-origin: 50% 50%; transform: scaleX(0.8);">350</span></div>
<div style="position:absolute;left:157.53px;top:269.76px;height:12px;line-height:12px;font-size:7.2px;color:#383838;white-space:pre;"><span class="sq" style="display: inline-block; transform-origin: 0px 50%; transform: scaleX(0.942988);">Wavelength nm</span></div>
<div style="position:absolute;left:61.61px;top:280.55px;width:69.45px;height:17.39px;box-sizing:border-box;border:1px solid #505050;border-radius:1px;background:linear-gradient(#e6e6e6,#c4c4c4);box-shadow:inset 1px 1px 0 #f4f4f4, inset -1px -1px 0 #9a9a9a"></div>
<div style="position:absolute;left:-3.66px;top:283.99px;width:200px;height:12px;line-height:12px;font-size:7.2px;color:#303030;white-space:pre;text-align:center;"><span class="sq" style="display: inline-block; transform-origin: 50% 50%; transform: scaleX(0.92);">Reset Baseline</span></div>
<div style="position:absolute;left:157.53px;top:281.86px;height:12px;line-height:12px;font-size:7.2px;color:#383838;white-space:pre;"><span class="sq" style="display: inline-block; transform-origin: 0px 50%; transform: scaleX(0.888194);">Cursor nm</span></div>
<div style="position:absolute;left:194.13px;top:283.9px;width:28.39px;height:10.27px;background:#fff;box-sizing:border-box;border-top:1px solid #606060;border-left:1px solid #606060;border-bottom:1px solid #e8e8e8;border-right:1px solid #e8e8e8"></div>
<div style="position:absolute;left:214.81px;top:284.92px;width:6.89px;height:4.17px;background:#c8c8c8;box-sizing:border-box;border-right:1px solid #777;border-bottom:1px solid #777"></div>
<div style="position:absolute;left:214.81px;top:289.09px;width:6.89px;height:4.27px;background:#c8c8c8;box-sizing:border-box;border-right:1px solid #777;border-bottom:1px solid #777"></div>
<div style="position:absolute;left:216.74px;top:285.83px;width:3.04px;height:2.03px;background:#222;clip-path:polygon(50% 0,100% 100%,0 100%)"></div>
<div style="position:absolute;left:216.74px;top:290.21px;width:3.04px;height:2.03px;background:#222;clip-path:polygon(0 0,100% 0,50% 100%)"></div>
<div style="position:absolute;left:104.22px;top:283.79px;width:200px;height:12px;line-height:12px;font-size:7.2px;color:#383838;white-space:pre;text-align:center;"><span class="sq" style="display: inline-block; transform-origin: 50% 50%; transform: scaleX(0.92);">260</span></div>
<div style="position:absolute;left:262.67px;top:282.77px;height:12px;line-height:12px;font-size:7.2px;color:#383838;white-space:pre;"><span class="sq" style="display: inline-block; transform-origin: 0px 50%; transform: scaleX(0.893444);">Cursor Abs.</span></div>
<div style="position:absolute;left:300.18px;top:283.29px;width:30.32px;height:11.19px;background:#fff;box-sizing:border-box;border:1px solid #c8d0e0"></div>
<div style="position:absolute;left:215.34px;top:282.98px;width:200px;height:12px;line-height:12px;font-size:7.2px;color:#383838;white-space:pre;text-align:center;"><span class="sq" style="display: inline-block; transform-origin: 50% 50%; transform: scaleX(0.92);">1.093</span></div>
<div style="position:absolute;left:338.1px;top:24.7px;width:150.26px;height:225.85px;background:#d3d3d3;box-sizing:border-box;border-left:1px solid #a8a8a8;border-top:1px solid #a8a8a8;overflow:hidden"><div style="position:absolute;left:0;top:9.05px;width:100%;height:1px;background:#a9a9a9"></div><div style="position:absolute;left:0;top:1px;width:100%;height:1px;background:#e4e4e4"></div><div style="position:absolute;left:0.9px;top:1px;height:9.05px;line-height:9.05px;font-size:7.2px;color:#333;white-space:nowrap"><span class="sq" style="display: inline-block; transform-origin: 0px 50%; transform: scaleX(0.92);">Sample ID</span></div><div style="position:absolute;left:67.31px;top:1px;height:9.05px;line-height:9.05px;font-size:7.2px;color:#333;white-space:pre"><span class="sq" style="display: inline-block; transform-origin: 0px 50%; transform: scaleX(0.92);">50ng/ul in 5% EtOH</span></div><div style="position:absolute;left:0;top:18.1px;width:100%;height:1px;background:#a9a9a9"></div><div style="position:absolute;left:0;top:10.05px;width:100%;height:1px;background:#e4e4e4"></div><div style="position:absolute;left:0.9px;top:10.05px;height:9.05px;line-height:9.05px;font-size:7.2px;color:#333;white-space:nowrap"><span class="sq" style="display: inline-block; transform-origin: 0px 50%; transform: scaleX(0.92);">User ID</span></div><div style="position:absolute;left:67.31px;top:10.05px;height:9.05px;line-height:9.05px;font-size:7.2px;color:#333;white-space:pre"><span class="sq" style="display: inline-block; transform-origin: 0px 50%; transform: scaleX(0.92);">Default</span></div><div style="position:absolute;left:0;top:27.15px;width:100%;height:1px;background:#a9a9a9"></div><div style="position:absolute;left:0;top:19.1px;width:100%;height:1px;background:#e4e4e4"></div><div style="position:absolute;left:0.9px;top:19.1px;height:9.05px;line-height:9.05px;font-size:7.2px;color:#333;white-space:nowrap"><span class="sq" style="display: inline-block; transform-origin: 0px 50%; transform: scaleX(0.92);">Date</span></div><div style="position:absolute;left:67.31px;top:19.1px;height:9.05px;line-height:9.05px;font-size:7.2px;color:#333;white-space:pre"><span class="sq" style="display: inline-block; transform-origin: 0px 50%; transform: scaleX(0.92);">3/26/2012</span></div><div style="position:absolute;left:0;top:36.2px;width:100%;height:1px;background:#a9a9a9"></div><div style="position:absolute;left:0;top:28.15px;width:100%;height:1px;background:#e4e4e4"></div><div style="position:absolute;left:0.9px;top:28.15px;height:9.05px;line-height:9.05px;font-size:7.2px;color:#333;white-space:nowrap"><span class="sq" style="display: inline-block; transform-origin: 0px 50%; transform: scaleX(0.92);">Time</span></div><div style="position:absolute;left:67.31px;top:28.15px;height:9.05px;line-height:9.05px;font-size:7.2px;color:#333;white-space:pre"><span class="sq" style="display: inline-block; transform-origin: 0px 50%; transform: scaleX(0.92);">12:58 PM</span></div><div style="position:absolute;left:0;top:45.25px;width:100%;height:1px;background:#a9a9a9"></div><div style="position:absolute;left:0;top:37.2px;width:100%;height:1px;background:#e4e4e4"></div><div style="position:absolute;left:0.9px;top:37.2px;height:9.05px;line-height:9.05px;font-size:7.2px;color:#333;white-space:nowrap"><span class="sq" style="display: inline-block; transform-origin: 0px 50%; transform: scaleX(0.92);">ng/ul</span></div><div style="position:absolute;left:67.31px;top:37.2px;height:9.05px;line-height:9.05px;font-size:7.2px;color:#333;white-space:pre"><span class="sq" style="display: inline-block; transform-origin: 0px 50%; transform: scaleX(0.92);"> 43.84</span></div><div style="position:absolute;left:0;top:54.3px;width:100%;height:1px;background:#a9a9a9"></div><div style="position:absolute;left:0;top:46.25px;width:100%;height:1px;background:#e4e4e4"></div><div style="position:absolute;left:0.9px;top:46.25px;height:9.05px;line-height:9.05px;font-size:7.2px;color:#333;white-space:nowrap"><span class="sq" style="display: inline-block; transform-origin: 0px 50%; transform: scaleX(0.92);">A260</span></div><div style="position:absolute;left:67.31px;top:46.25px;height:9.05px;line-height:9.05px;font-size:7.2px;color:#333;white-space:pre"><span class="sq" style="display: inline-block; transform-origin: 0px 50%; transform: scaleX(0.92);"> 1.096</span></div><div style="position:absolute;left:0;top:63.35px;width:100%;height:1px;background:#a9a9a9"></div><div style="position:absolute;left:0;top:55.3px;width:100%;height:1px;background:#e4e4e4"></div><div style="position:absolute;left:0.9px;top:55.3px;height:9.05px;line-height:9.05px;font-size:7.2px;color:#333;white-space:nowrap"><span class="sq" style="display: inline-block; transform-origin: 0px 50%; transform: scaleX(0.92);">A280</span></div><div style="position:absolute;left:67.31px;top:55.3px;height:9.05px;line-height:9.05px;font-size:7.2px;color:#333;white-space:pre"><span class="sq" style="display: inline-block; transform-origin: 0px 50%; transform: scaleX(0.92);"> 0.613</span></div><div style="position:absolute;left:0;top:72.4px;width:100%;height:1px;background:#a9a9a9"></div><div style="position:absolute;left:0;top:64.35px;width:100%;height:1px;background:#e4e4e4"></div><div style="position:absolute;left:0.9px;top:64.35px;height:9.05px;line-height:9.05px;font-size:7.2px;color:#333;white-space:nowrap"><span class="sq" style="display: inline-block; transform-origin: 0px 50%; transform: scaleX(0.92);">260/280</span></div><div style="position:absolute;left:67.31px;top:64.35px;height:9.05px;line-height:9.05px;font-size:7.2px;color:#333;white-space:pre"><span class="sq" style="display: inline-block; transform-origin: 0px 50%; transform: scaleX(0.92);">  1.79</span></div><div style="position:absolute;left:0;top:81.45px;width:100%;height:1px;background:#a9a9a9"></div><div style="position:absolute;left:0;top:73.4px;width:100%;height:1px;background:#e4e4e4"></div><div style="position:absolute;left:0.9px;top:73.4px;height:9.05px;line-height:9.05px;font-size:7.2px;color:#333;white-space:nowrap"><span class="sq" style="display: inline-block; transform-origin: 0px 50%; transform: scaleX(0.92);">260/230</span></div><div style="position:absolute;left:67.31px;top:73.4px;height:9.05px;line-height:9.05px;font-size:7.2px;color:#333;white-space:pre"><span class="sq" style="display: inline-block; transform-origin: 0px 50%; transform: scaleX(0.92);">  2.19</span></div><div style="position:absolute;left:0;top:90.5px;width:100%;height:1px;background:#a9a9a9"></div><div style="position:absolute;left:0;top:82.45px;width:100%;height:1px;background:#e4e4e4"></div><div style="position:absolute;left:0.9px;top:82.45px;height:9.05px;line-height:9.05px;font-size:7.2px;color:#333;white-space:nowrap"><span class="sq" style="display: inline-block; transform-origin: 0px 50%; transform: scaleX(0.92);">Constant</span></div><div style="position:absolute;left:67.31px;top:82.45px;height:9.05px;line-height:9.05px;font-size:7.2px;color:#333;white-space:pre"><span class="sq" style="display: inline-block; transform-origin: 0px 50%; transform: scaleX(0.92);"> 40.00</span></div><div style="position:absolute;left:0;top:99.55px;width:100%;height:1px;background:#a9a9a9"></div><div style="position:absolute;left:0;top:91.5px;width:100%;height:1px;background:#e4e4e4"></div><div style="position:absolute;left:0.9px;top:91.5px;height:9.05px;line-height:9.05px;font-size:7.2px;color:#333;white-space:nowrap"><span class="sq" style="display: inline-block; transform-origin: 0px 50%; transform: scaleX(0.92);">Cursor Pos.</span></div><div style="position:absolute;left:67.31px;top:91.5px;height:9.05px;line-height:9.05px;font-size:7.2px;color:#333;white-space:pre"><span class="sq" style="display: inline-block; transform-origin: 0px 50%; transform: scaleX(0.92);"> 230</span></div><div style="position:absolute;left:0;top:108.6px;width:100%;height:1px;background:#a9a9a9"></div><div style="position:absolute;left:0;top:100.55px;width:100%;height:1px;background:#e4e4e4"></div><div style="position:absolute;left:0.9px;top:100.55px;height:9.05px;line-height:9.05px;font-size:7.2px;color:#333;white-space:nowrap"><span class="sq" style="display: inline-block; transform-origin: 0px 50%; transform: scaleX(0.92);">Cursor abs.</span></div><div style="position:absolute;left:67.31px;top:100.55px;height:9.05px;line-height:9.05px;font-size:7.2px;color:#333;white-space:pre"><span class="sq" style="display: inline-block; transform-origin: 0px 50%; transform: scaleX(0.92);"> 0.500</span></div><div style="position:absolute;left:0;top:117.65px;width:100%;height:1px;background:#a9a9a9"></div><div style="position:absolute;left:0;top:109.6px;width:100%;height:1px;background:#e4e4e4"></div><div style="position:absolute;left:0.9px;top:109.6px;height:9.05px;line-height:9.05px;font-size:7.2px;color:#333;white-space:nowrap"><span class="sq" style="display: inline-block; transform-origin: 0px 50%; transform: scaleX(0.92);">340 raw</span></div><div style="position:absolute;left:67.31px;top:109.6px;height:9.05px;line-height:9.05px;font-size:7.2px;color:#333;white-space:pre"><span class="sq" style="display: inline-block; transform-origin: 0px 50%; transform: scaleX(0.92);">-0.004</span></div><div style="position:absolute;left:0;top:126.7px;width:100%;height:1px;background:#a9a9a9"></div><div style="position:absolute;left:0;top:118.65px;width:100%;height:1px;background:#e4e4e4"></div><div style="position:absolute;left:0.9px;top:118.65px;height:9.05px;line-height:9.05px;font-size:7.2px;color:#333;white-space:nowrap"><span class="sq" style="display: inline-block; transform-origin: 0px 50%; transform: scaleX(0.92);">Measurement Type</span></div><div style="position:absolute;left:67.31px;top:118.65px;height:9.05px;line-height:9.05px;font-size:7.2px;color:#333;white-space:pre"><span class="sq" style="display: inline-block; transform-origin: 0px 50%; transform: scaleX(0.92);">Measure</span></div><div style="position:absolute;left:0;top:135.75px;width:100%;height:1px;background:#a9a9a9"></div><div style="position:absolute;left:0;top:127.7px;width:100%;height:1px;background:#e4e4e4"></div><div style="position:absolute;left:0.9px;top:127.7px;height:9.05px;line-height:9.05px;font-size:7.2px;color:#333;white-space:nowrap"><span class="sq" style="display: inline-block; transform-origin: 0px 50%; transform: scaleX(0.92);">Serial #</span></div><div style="position:absolute;left:67.31px;top:127.7px;height:9.05px;line-height:9.05px;font-size:7.2px;color:#333;white-space:pre"><span class="sq" style="display: inline-block; transform-origin: 0px 50%; transform: scaleX(0.92);">USB2G27725BB690</span></div><div style="position:absolute;left:0;top:144.8px;width:100%;height:1px;background:#a9a9a9"></div><div style="position:absolute;left:0;top:136.75px;width:100%;height:1px;background:#e4e4e4"></div><div style="position:absolute;left:0.9px;top:136.75px;height:9.05px;line-height:9.05px;font-size:7.2px;color:#333;white-space:nowrap"><span class="sq" style="display: inline-block; transform-origin: 0px 50%; transform: scaleX(0.92);">Config.</span></div><div style="position:absolute;left:67.31px;top:136.75px;height:9.05px;line-height:9.05px;font-size:7.2px;color:#333;white-space:pre"><span class="sq" style="display: inline-block; transform-origin: 0px 50%; transform: scaleX(0.92);">0.994100/-0.16/96/24</span></div><div style="position:absolute;left:0;top:153.85px;width:100%;height:1px;background:#a9a9a9"></div><div style="position:absolute;left:0;top:145.8px;width:100%;height:1px;background:#e4e4e4"></div><div style="position:absolute;left:0;top:162.9px;width:100%;height:1px;background:#a9a9a9"></div><div style="position:absolute;left:0;top:154.85px;width:100%;height:1px;background:#e4e4e4"></div><div style="position:absolute;left:0;top:171.95px;width:100%;height:1px;background:#a9a9a9"></div><div style="position:absolute;left:0;top:163.9px;width:100%;height:1px;background:#e4e4e4"></div><div style="position:absolute;left:0;top:181px;width:100%;height:1px;background:#a9a9a9"></div><div style="position:absolute;left:0;top:172.95px;width:100%;height:1px;background:#e4e4e4"></div><div style="position:absolute;left:0;top:190.05px;width:100%;height:1px;background:#a9a9a9"></div><div style="position:absolute;left:0;top:182px;width:100%;height:1px;background:#e4e4e4"></div><div style="position:absolute;left:0;top:199.1px;width:100%;height:1px;background:#a9a9a9"></div><div style="position:absolute;left:0;top:191.05px;width:100%;height:1px;background:#e4e4e4"></div><div style="position:absolute;left:0;top:208.15px;width:100%;height:1px;background:#a9a9a9"></div><div style="position:absolute;left:0;top:200.1px;width:100%;height:1px;background:#e4e4e4"></div><div style="position:absolute;left:0;top:217.2px;width:100%;height:1px;background:#a9a9a9"></div><div style="position:absolute;left:0;top:209.15px;width:100%;height:1px;background:#e4e4e4"></div><div style="position:absolute;left:0;top:226.25px;width:100%;height:1px;background:#a9a9a9"></div><div style="position:absolute;left:0;top:218.2px;width:100%;height:1px;background:#e4e4e4"></div><div style="position:absolute;left:0;top:235.3px;width:100%;height:1px;background:#a9a9a9"></div><div style="position:absolute;left:0;top:227.25px;width:100%;height:1px;background:#e4e4e4"></div><div style="position:absolute;left:65.11px;top:0;width:1px;height:100%;background:#8c8c8c"></div><div style="position:absolute;left:149.26px;top:0;width:1px;height:100%;background:#8c8c8c"></div></div>
<div style="position:absolute;left:338.1px;top:250.55px;width:150.26px;height:9.46px;background:#b4b4b4;border-top:1px solid #999;box-sizing:border-box"></div>
<div style="position:absolute;left:338.61px;top:250.85px;width:10.14px;height:8.95px;background:#cfcfcf;box-sizing:border-box;border-right:1px solid #888;border-bottom:1px solid #888"></div>
<div style="position:absolute;left:341.45px;top:253.09px;width:3.04px;height:4.68px;background:#111;clip-path:polygon(0 50%,100% 0,100% 100%)"></div>
<div style="position:absolute;left:348.75px;top:251.06px;width:85.47px;height:8.75px;background:linear-gradient(#d4d4d4,#a8a8a8);box-sizing:border-box;border-left:1px solid #555;border-right:1px solid #555;border-bottom:1px solid #777"></div>
<div style="position:absolute;left:477.51px;top:250.85px;width:10.14px;height:8.95px;background:#cfcfcf;box-sizing:border-box;border-right:1px solid #888;border-bottom:1px solid #888"></div>
<div style="position:absolute;left:481.37px;top:253.09px;width:3.04px;height:4.68px;background:#111;clip-path:polygon(0 0,100% 50%,0 100%)"></div>
</div>
<div style="position:absolute;left:208.1px;top:391.7px;width:139.3px;height:76.3px;background:#fff;box-sizing:border-box;border:1.4px solid #8a8a8a"></div>
<div style="position:absolute;left:220.7px;top:395.21px;width:113.1px;height:20px;line-height:20px;font-size:19.6px;font-weight:bold;color:#111;white-space:nowrap;-webkit-text-stroke:0.5px #111"><span class="sq" style="display: inline-block; transform-origin: 0px 50%; transform: scaleX(0.77037);">RNA + 5% EtOH</span></div>
<div style="position:absolute;left:222.7px;top:420.2px;height:16.3px;line-height:16.3px;font-size:16.3px;color:#262626;white-space:nowrap"><span class="sq ratio" style="display: inline-block; transform-origin: 0px 50%; transform: scaleX(0.988694);">A<sub>260</sub>/A<sub>280</sub> = 1.79</span></div>
<div style="position:absolute;left:222.7px;top:445.1px;height:16.3px;line-height:16.3px;font-size:16.3px;color:#262626;white-space:nowrap"><span class="sq ratio" style="display: inline-block; transform-origin: 0px 50%; transform: scaleX(0.988694);">A<sub>260</sub>/A<sub>230</sub> = 2.19</span></div>
<div style="position:absolute;left:548.2px;top:351.4px;width:479.9px;height:305.6px;background:#e0e0e0;overflow:hidden">
<div style="position:absolute;left:15.82px;top:-0.57px;width:490.22px;height:1.84px;background:#f4f4f4"></div>
<div style="position:absolute;left:15.1px;top:-0.77px;width:1.13px;height:2.86px;background:#777"></div>
<div style="position:absolute;left:44.81px;top:-0.77px;width:1.02px;height:1.43px;background:#aaa"></div>
<div style="position:absolute;left:18.69px;top:6.92px;height:12px;line-height:12px;font-size:7.2px;color:#383838;white-space:pre;"><span class="sq" style="display: inline-block; transform-origin: 0px 50%; transform: scaleX(0.966256);">Selected plot</span></div>
<div style="position:absolute;left:61.41px;top:6.9px;width:89.95px;height:10.43px;background:#fff;box-sizing:border-box;border-top:1px solid #606060;border-left:1px solid #606060;border-bottom:1px solid #e8e8e8;border-right:1px solid #e8e8e8"></div>
<div style="position:absolute;left:143.67px;top:7.92px;width:6.86px;height:8.49px;background:#c4c4c4;box-sizing:border-box;border-right:1px solid #808080;border-bottom:1px solid #808080"></div>
<div style="position:absolute;left:145.42px;top:10.89px;width:3.48px;height:2.46px;background:#111;clip-path:polygon(0 0,100% 0,50% 100%)"></div>
<div style="position:absolute;left:2.9px;top:6.92px;width:200px;height:12px;line-height:12px;font-size:7.2px;color:#383838;white-space:pre;text-align:center;"><span class="sq" style="display: inline-block; transform-origin: 50% 50%; transform: scaleX(0.92);">50ng/ul in 5% IPA</span></div>
<div style="position:absolute;left:164.78px;top:7.33px;height:12px;line-height:12px;font-size:7.2px;color:#383838;white-space:pre;"><span class="sq" style="display: inline-block; transform-origin: 0px 50%; transform: scaleX(0.954612);">Plots/Set</span></div>
<div style="position:absolute;left:195.62px;top:6.9px;width:28.48px;height:10.43px;background:#fff;box-sizing:border-box;border-top:1px solid #606060;border-left:1px solid #606060;border-bottom:1px solid #e8e8e8;border-right:1px solid #e8e8e8"></div>
<div style="position:absolute;left:216.31px;top:7.92px;width:6.97px;height:4.19px;background:#c8c8c8;box-sizing:border-box;border-right:1px solid #777;border-bottom:1px solid #777"></div>
<div style="position:absolute;left:216.31px;top:12.12px;width:6.97px;height:4.3px;background:#c8c8c8;box-sizing:border-box;border-right:1px solid #777;border-bottom:1px solid #777"></div>
<div style="position:absolute;left:218.36px;top:8.84px;width:3.07px;height:2.05px;background:#222;clip-path:polygon(50% 0,100% 100%,0 100%)"></div>
<div style="position:absolute;left:218.36px;top:13.34px;width:3.07px;height:2.05px;background:#222;clip-path:polygon(0 0,100% 0,50% 100%)"></div>
<div style="position:absolute;left:105.76px;top:6.92px;width:200px;height:12px;line-height:12px;font-size:7.2px;color:#383838;white-space:pre;text-align:center;"><span class="sq" style="display: inline-block; transform-origin: 50% 50%; transform: scaleX(0.92);">1</span></div>
<div style="position:absolute;left:256.47px;top:6.9px;width:28.17px;height:10.43px;background:#fff;box-sizing:border-box;border-top:1px solid #606060;border-left:1px solid #606060;border-bottom:1px solid #e8e8e8;border-right:1px solid #e8e8e8"></div>
<div style="position:absolute;left:276.86px;top:7.92px;width:6.97px;height:4.19px;background:#c8c8c8;box-sizing:border-box;border-right:1px solid #777;border-bottom:1px solid #777"></div>
<div style="position:absolute;left:276.86px;top:12.12px;width:6.97px;height:4.3px;background:#c8c8c8;box-sizing:border-box;border-right:1px solid #777;border-bottom:1px solid #777"></div>
<div style="position:absolute;left:278.91px;top:8.84px;width:3.07px;height:2.05px;background:#222;clip-path:polygon(50% 0,100% 100%,0 100%)"></div>
<div style="position:absolute;left:278.91px;top:13.34px;width:3.07px;height:2.05px;background:#222;clip-path:polygon(0 0,100% 0,50% 100%)"></div>
<div style="position:absolute;left:166.46px;top:6.92px;width:200px;height:12px;line-height:12px;font-size:7.2px;color:#383838;white-space:pre;text-align:center;"><span class="sq" style="display: inline-block; transform-origin: 50% 50%; transform: scaleX(0.92);">20</span></div>
<div style="position:absolute;left:230.86px;top:7.33px;height:12px;line-height:12px;font-size:7.2px;color:#383838;white-space:pre;"><span class="sq" style="display: inline-block; transform-origin: 0px 50%; transform: scaleX(0.92802);">Plot Set</span></div>
<div style="position:absolute;left:301.34px;top:5.98px;width:32.48px;height:11.66px;background:#fff;box-sizing:border-box;border:1px solid #404040;border-top-color:#808080;border-left-color:#808080"></div>
<div style="position:absolute;left:217.58px;top:6.72px;width:200px;height:12px;line-height:12px;font-size:7.2px;color:#303030;white-space:pre;text-align:center;"><span class="sq" style="display: inline-block; transform-origin: 50% 50%; transform: scaleX(0.92);">Legend</span></div>
<div style="position:absolute;left:302.57px;top:14.69px;width:200px;height:12px;line-height:12px;font-size:7.2px;color:#383838;white-space:pre;text-align:center;"><span class="sq" style="display: inline-block; transform-origin: 50% 50%; transform: scaleX(0.92);">Sample Information</span></div>
<svg width="305.5" height="236.3" style="position:absolute;left:27.5px;top:24.4px;overflow:visible"><rect x="0" y="0" width="305.5" height="236.3" fill="#fff"></rect><line x1="0" x2="305.5" y1="231.83" y2="231.83" stroke="#b3dc9c" stroke-width="1.2"></line><line x1="0" x2="305.5" y1="214" y2="214" stroke="#3a5cb8" stroke-width="1.3"></line><line x1="0" x2="305.5" y1="196.17" y2="196.17" stroke="#b3dc9c" stroke-width="1.2"></line><line x1="0" x2="305.5" y1="178.34" y2="178.34" stroke="#b3dc9c" stroke-width="1.2"></line><line x1="0" x2="305.5" y1="160.51" y2="160.51" stroke="#b3dc9c" stroke-width="1.2"></line><line x1="0" x2="305.5" y1="142.68" y2="142.68" stroke="#b3dc9c" stroke-width="1.2"></line><line x1="0" x2="305.5" y1="124.85" y2="124.85" stroke="#b3dc9c" stroke-width="1.2"></line><line x1="0" x2="305.5" y1="107.02" y2="107.02" stroke="#b3dc9c" stroke-width="1.2"></line><line x1="0" x2="305.5" y1="89.19" y2="89.19" stroke="#b3dc9c" stroke-width="1.2"></line><line x1="0" x2="305.5" y1="71.36" y2="71.36" stroke="#b3dc9c" stroke-width="1.2"></line><line x1="0" x2="305.5" y1="53.53" y2="53.53" stroke="#b3dc9c" stroke-width="1.2"></line><line x1="0" x2="305.5" y1="35.7" y2="35.7" stroke="#b3dc9c" stroke-width="1.2"></line><line x1="0" x2="305.5" y1="17.87" y2="17.87" stroke="#b3dc9c" stroke-width="1.2"></line><path d="M0.5 236.3 V0.5 H305.5" fill="none" stroke="#a0a0a0" stroke-width="1"></path><line x1="94.68" x2="94.68" y1="0" y2="236.3" stroke="#1a1a1a" stroke-width="1.15"></line><path d="M0.5 83.6 C0.9 84.57 2.05 86.92 2.9 89.4 C3.75 91.88 4.7 95.77 5.6 98.5 C6.5 101.23 7.38 103.37 8.3 105.8 C9.22 108.23 10.03 111.13 11.1 113.1 C12.17 115.07 13.33 116.33 14.7 117.6 C16.07 118.87 17.78 119.93 19.3 120.7 C20.82 121.47 22.43 122.2 23.8 122.2 C25.17 122.2 25.98 121.15 27.5 120.7 C29.02 120.25 31.23 120.47 32.9 119.5 C34.57 118.53 36.13 116.58 37.5 114.9 C38.87 113.22 39.88 111.98 41.1 109.4 C42.32 106.82 43.58 102.73 44.8 99.4 C46.02 96.07 47.18 92.13 48.4 89.4 C49.62 86.67 51.03 85.43 52.1 83 C53.17 80.57 53.9 77.38 54.8 74.8 C55.7 72.22 56.43 69.93 57.5 67.5 C58.57 65.07 59.98 62.48 61.2 60.2 C62.42 57.92 63.55 56.47 64.8 53.8 C66.05 51.13 67.35 47.08 68.7 44.2 C70.05 41.32 71.58 38.83 72.9 36.5 C74.22 34.17 75.38 32.17 76.6 30.2 C77.82 28.23 78.98 26.17 80.2 24.7 C81.42 23.23 82.53 22.1 83.9 21.4 C85.27 20.7 86.88 20.62 88.4 20.5 C89.92 20.38 91.48 20.45 93 20.7 C94.52 20.95 95.98 21.18 97.5 22 C99.02 22.82 100.73 24.23 102.1 25.6 C103.47 26.97 104.48 28.23 105.7 30.2 C106.92 32.17 108.03 34.83 109.4 37.4 C110.77 39.97 112.38 42.7 113.9 45.6 C115.42 48.5 116.97 52.07 118.5 54.8 C120.03 57.53 121.73 59.27 123.1 62 C124.47 64.73 125.33 68.15 126.7 71.2 C128.07 74.25 129.78 76.97 131.3 80.3 C132.82 83.63 134.43 87.57 135.8 91.2 C137.17 94.83 138.17 99.02 139.5 102.1 C140.83 105.18 142.52 107.35 143.8 109.7 C145.08 112.05 146.05 113.67 147.2 116.2 C148.35 118.73 149.4 121.85 150.7 124.9 C152 127.95 153.7 131.28 155 134.5 C156.3 137.72 157.18 141.28 158.5 144.2 C159.82 147.12 161.43 149.23 162.9 152 C164.37 154.77 165.7 157.88 167.3 160.8 C168.9 163.72 170.62 166.58 172.5 169.5 C174.38 172.42 176.42 175.38 178.6 178.3 C180.78 181.22 183.42 184.53 185.6 187 C187.78 189.47 189.65 190.92 191.7 193.1 C193.75 195.28 195.85 198.05 197.9 200.1 C199.95 202.15 201.97 203.8 204 205.4 C206.03 207 207.77 208.68 210.1 209.7 C212.43 210.72 215.63 211.03 218 211.5 C220.37 211.97 222.42 212.17 224.3 212.5 C226.18 212.83 227.27 213.4 229.3 213.5 C231.33 213.6 234.48 213.47 236.5 213.1 C238.52 212.73 239.37 211.6 241.4 211.3 C243.43 211 246.4 211.05 248.7 211.3 C251 211.55 253.3 212.4 255.2 212.8 C257.1 213.2 256.43 213.55 260.1 213.7 C263.77 213.85 272.85 213.45 277.2 213.7 C281.55 213.95 283.48 214.85 286.2 215.2 C288.92 215.55 291.33 215.75 293.5 215.8 C295.67 215.85 297.3 215.6 299.2 215.5 C301.1 215.4 303.95 215.25 304.9 215.2" fill="none" stroke="#111" stroke-width="1.65" stroke-linejoin="round" stroke-linecap="round"></path><line x1="229.3" x2="305.5" y1="214" y2="214" stroke="#3a5cb8" stroke-width="1.3" opacity="0.85"></line></svg>
<div style="position:absolute;left:-7.1px;top:19.6px;width:30px;height:12px;line-height:12px;font-size:7.2px;color:#383838;text-align:right;white-space:nowrap"><span class="sq" style="display: inline-block; transform-origin: 100% 50%; transform: scaleX(0.86);">1.19</span></div>
<div style="position:absolute;left:-7.1px;top:36.27px;width:30px;height:12px;line-height:12px;font-size:7.2px;color:#383838;text-align:right;white-space:nowrap"><span class="sq" style="display: inline-block; transform-origin: 100% 50%; transform: scaleX(0.86);">1.10</span></div>
<div style="position:absolute;left:-7.1px;top:54.1px;width:30px;height:12px;line-height:12px;font-size:7.2px;color:#383838;text-align:right;white-space:nowrap"><span class="sq" style="display: inline-block; transform-origin: 100% 50%; transform: scaleX(0.86);">1.00</span></div>
<div style="position:absolute;left:-7.1px;top:71.93px;width:30px;height:12px;line-height:12px;font-size:7.2px;color:#383838;text-align:right;white-space:nowrap"><span class="sq" style="display: inline-block; transform-origin: 100% 50%; transform: scaleX(0.86);">0.90</span></div>
<div style="position:absolute;left:-7.1px;top:89.76px;width:30px;height:12px;line-height:12px;font-size:7.2px;color:#383838;text-align:right;white-space:nowrap"><span class="sq" style="display: inline-block; transform-origin: 100% 50%; transform: scaleX(0.86);">0.80</span></div>
<div style="position:absolute;left:-7.1px;top:107.59px;width:30px;height:12px;line-height:12px;font-size:7.2px;color:#383838;text-align:right;white-space:nowrap"><span class="sq" style="display: inline-block; transform-origin: 100% 50%; transform: scaleX(0.86);">0.70</span></div>
<div style="position:absolute;left:-7.1px;top:125.42px;width:30px;height:12px;line-height:12px;font-size:7.2px;color:#383838;text-align:right;white-space:nowrap"><span class="sq" style="display: inline-block; transform-origin: 100% 50%; transform: scaleX(0.86);">0.60</span></div>
<div style="position:absolute;left:-7.1px;top:143.25px;width:30px;height:12px;line-height:12px;font-size:7.2px;color:#383838;text-align:right;white-space:nowrap"><span class="sq" style="display: inline-block; transform-origin: 100% 50%; transform: scaleX(0.86);">0.50</span></div>
<div style="position:absolute;left:-7.1px;top:161.08px;width:30px;height:12px;line-height:12px;font-size:7.2px;color:#383838;text-align:right;white-space:nowrap"><span class="sq" style="display: inline-block; transform-origin: 100% 50%; transform: scaleX(0.86);">0.40</span></div>
<div style="position:absolute;left:-7.1px;top:178.91px;width:30px;height:12px;line-height:12px;font-size:7.2px;color:#383838;text-align:right;white-space:nowrap"><span class="sq" style="display: inline-block; transform-origin: 100% 50%; transform: scaleX(0.86);">0.30</span></div>
<div style="position:absolute;left:-7.1px;top:196.74px;width:30px;height:12px;line-height:12px;font-size:7.2px;color:#383838;text-align:right;white-space:nowrap"><span class="sq" style="display: inline-block; transform-origin: 100% 50%; transform: scaleX(0.86);">0.20</span></div>
<div style="position:absolute;left:-7.1px;top:214.57px;width:30px;height:12px;line-height:12px;font-size:7.2px;color:#383838;text-align:right;white-space:nowrap"><span class="sq" style="display: inline-block; transform-origin: 100% 50%; transform: scaleX(0.86);">0.10</span></div>
<div style="position:absolute;left:-7.1px;top:232.4px;width:30px;height:12px;line-height:12px;font-size:7.2px;color:#383838;text-align:right;white-space:nowrap"><span class="sq" style="display: inline-block; transform-origin: 100% 50%; transform: scaleX(0.86);">0.00</span></div>
<div style="position:absolute;left:-5.3px;top:254.2px;width:30px;height:12px;line-height:12px;font-size:7.2px;color:#383838;text-align:right;white-space:nowrap"><span class="sq" style="display: inline-block; transform-origin: 100% 50%; transform: scaleX(0.86);">-0.12</span></div>
<div style="position:absolute;left:5.06px;top:141.15px;width:80px;height:10px;line-height:10px;font-size:7px;color:#404040;text-align:center;transform:translate(-40px,-5px) rotate(-90deg) scaleX(0.94);white-space:nowrap">10 mm Absorbance</div>
<div style="position:absolute;left:27.1px;top:260.7px;width:1px;height:2.6px;background:#555"></div>
<div style="position:absolute;left:17.6px;top:262.98px;width:20px;height:12px;line-height:12px;font-size:7.4px;color:#383838;text-align:center"><span class="sq" style="display: inline-block; transform-origin: 50% 50%; transform: scaleX(0.8);">220</span></div>
<div style="position:absolute;left:50.57px;top:260.7px;width:1px;height:2.6px;background:#555"></div>
<div style="position:absolute;left:41.07px;top:262.98px;width:20px;height:12px;line-height:12px;font-size:7.4px;color:#383838;text-align:center"><span class="sq" style="display: inline-block; transform-origin: 50% 50%; transform: scaleX(0.8);">230</span></div>
<div style="position:absolute;left:74.04px;top:260.7px;width:1px;height:2.6px;background:#555"></div>
<div style="position:absolute;left:64.54px;top:262.98px;width:20px;height:12px;line-height:12px;font-size:7.4px;color:#383838;text-align:center"><span class="sq" style="display: inline-block; transform-origin: 50% 50%; transform: scaleX(0.8);">240</span></div>
<div style="position:absolute;left:97.51px;top:260.7px;width:1px;height:2.6px;background:#555"></div>
<div style="position:absolute;left:88.01px;top:262.98px;width:20px;height:12px;line-height:12px;font-size:7.4px;color:#383838;text-align:center"><span class="sq" style="display: inline-block; transform-origin: 50% 50%; transform: scaleX(0.8);">250</span></div>
<div style="position:absolute;left:120.98px;top:260.7px;width:1px;height:2.6px;background:#555"></div>
<div style="position:absolute;left:111.48px;top:262.98px;width:20px;height:12px;line-height:12px;font-size:7.4px;color:#383838;text-align:center"><span class="sq" style="display: inline-block; transform-origin: 50% 50%; transform: scaleX(0.8);">260</span></div>
<div style="position:absolute;left:144.45px;top:260.7px;width:1px;height:2.6px;background:#555"></div>
<div style="position:absolute;left:134.95px;top:262.98px;width:20px;height:12px;line-height:12px;font-size:7.4px;color:#383838;text-align:center"><span class="sq" style="display: inline-block; transform-origin: 50% 50%; transform: scaleX(0.8);">270</span></div>
<div style="position:absolute;left:167.92px;top:260.7px;width:1px;height:2.6px;background:#555"></div>
<div style="position:absolute;left:158.42px;top:262.98px;width:20px;height:12px;line-height:12px;font-size:7.4px;color:#383838;text-align:center"><span class="sq" style="display: inline-block; transform-origin: 50% 50%; transform: scaleX(0.8);">280</span></div>
<div style="position:absolute;left:191.39px;top:260.7px;width:1px;height:2.6px;background:#555"></div>
<div style="position:absolute;left:181.89px;top:262.98px;width:20px;height:12px;line-height:12px;font-size:7.4px;color:#383838;text-align:center"><span class="sq" style="display: inline-block; transform-origin: 50% 50%; transform: scaleX(0.8);">290</span></div>
<div style="position:absolute;left:214.86px;top:260.7px;width:1px;height:2.6px;background:#555"></div>
<div style="position:absolute;left:205.36px;top:262.98px;width:20px;height:12px;line-height:12px;font-size:7.4px;color:#383838;text-align:center"><span class="sq" style="display: inline-block; transform-origin: 50% 50%; transform: scaleX(0.8);">300</span></div>
<div style="position:absolute;left:238.33px;top:260.7px;width:1px;height:2.6px;background:#555"></div>
<div style="position:absolute;left:228.83px;top:262.98px;width:20px;height:12px;line-height:12px;font-size:7.4px;color:#383838;text-align:center"><span class="sq" style="display: inline-block; transform-origin: 50% 50%; transform: scaleX(0.8);">310</span></div>
<div style="position:absolute;left:261.8px;top:260.7px;width:1px;height:2.6px;background:#555"></div>
<div style="position:absolute;left:252.3px;top:262.98px;width:20px;height:12px;line-height:12px;font-size:7.4px;color:#383838;text-align:center"><span class="sq" style="display: inline-block; transform-origin: 50% 50%; transform: scaleX(0.8);">320</span></div>
<div style="position:absolute;left:285.27px;top:260.7px;width:1px;height:2.6px;background:#555"></div>
<div style="position:absolute;left:275.77px;top:262.98px;width:20px;height:12px;line-height:12px;font-size:7.4px;color:#383838;text-align:center"><span class="sq" style="display: inline-block; transform-origin: 50% 50%; transform: scaleX(0.8);">330</span></div>
<div style="position:absolute;left:308.74px;top:260.7px;width:1px;height:2.6px;background:#555"></div>
<div style="position:absolute;left:299.24px;top:262.98px;width:20px;height:12px;line-height:12px;font-size:7.4px;color:#383838;text-align:center"><span class="sq" style="display: inline-block; transform-origin: 50% 50%; transform: scaleX(0.8);">340</span></div>
<div style="position:absolute;left:332.21px;top:260.7px;width:1px;height:2.6px;background:#555"></div>
<div style="position:absolute;left:322.71px;top:262.98px;width:20px;height:12px;line-height:12px;font-size:7.4px;color:#383838;text-align:center"><span class="sq" style="display: inline-block; transform-origin: 50% 50%; transform: scaleX(0.8);">350</span></div>
<div style="position:absolute;left:153.61px;top:271.77px;height:12px;line-height:12px;font-size:7.2px;color:#383838;white-space:pre;"><span class="sq" style="display: inline-block; transform-origin: 0px 50%; transform: scaleX(0.952853);">Wavelength nm</span></div>
<div style="position:absolute;left:56.69px;top:282.6px;width:70.18px;height:17.49px;box-sizing:border-box;border:1px solid #505050;border-radius:1px;background:linear-gradient(#e6e6e6,#c4c4c4);box-shadow:inset 1px 1px 0 #f4f4f4, inset -1px -1px 0 #9a9a9a"></div>
<div style="position:absolute;left:-8.22px;top:286.1px;width:200px;height:12px;line-height:12px;font-size:7.2px;color:#303030;white-space:pre;text-align:center;"><span class="sq" style="display: inline-block; transform-origin: 50% 50%; transform: scaleX(0.92);">Reset Baseline</span></div>
<div style="position:absolute;left:153.61px;top:283.95px;height:12px;line-height:12px;font-size:7.2px;color:#383838;white-space:pre;"><span class="sq" style="display: inline-block; transform-origin: 0px 50%; transform: scaleX(0.89743);">Cursor nm</span></div>
<div style="position:absolute;left:190.6px;top:285.97px;width:28.69px;height:10.33px;background:#fff;box-sizing:border-box;border-top:1px solid #606060;border-left:1px solid #606060;border-bottom:1px solid #e8e8e8;border-right:1px solid #e8e8e8"></div>
<div style="position:absolute;left:211.5px;top:287px;width:6.97px;height:4.19px;background:#c8c8c8;box-sizing:border-box;border-right:1px solid #777;border-bottom:1px solid #777"></div>
<div style="position:absolute;left:211.5px;top:291.19px;width:6.97px;height:4.3px;background:#c8c8c8;box-sizing:border-box;border-right:1px solid #777;border-bottom:1px solid #777"></div>
<div style="position:absolute;left:213.44px;top:287.92px;width:3.07px;height:2.05px;background:#222;clip-path:polygon(50% 0,100% 100%,0 100%)"></div>
<div style="position:absolute;left:213.44px;top:292.31px;width:3.07px;height:2.05px;background:#222;clip-path:polygon(0 0,100% 0,50% 100%)"></div>
<div style="position:absolute;left:100.79px;top:285.89px;width:200px;height:12px;line-height:12px;font-size:7.2px;color:#383838;white-space:pre;text-align:center;"><span class="sq" style="display: inline-block; transform-origin: 50% 50%; transform: scaleX(0.92);">260</span></div>
<div style="position:absolute;left:259.85px;top:284.87px;height:12px;line-height:12px;font-size:7.2px;color:#383838;white-space:pre;"><span class="sq" style="display: inline-block; transform-origin: 0px 50%; transform: scaleX(0.902762);">Cursor Abs.</span></div>
<div style="position:absolute;left:297.76px;top:285.36px;width:30.63px;height:11.25px;background:#fff;box-sizing:border-box;border:1px solid #c8d0e0"></div>
<div style="position:absolute;left:213.08px;top:285.07px;width:200px;height:12px;line-height:12px;font-size:7.2px;color:#383838;white-space:pre;text-align:center;"><span class="sq" style="display: inline-block; transform-origin: 50% 50%; transform: scaleX(0.92);">1.078</span></div>
<div style="position:absolute;left:336.08px;top:24.7px;width:151.83px;height:227.72px;background:#d3d3d3;box-sizing:border-box;border-left:1px solid #a8a8a8;border-top:1px solid #a8a8a8;overflow:hidden"><div style="position:absolute;left:0;top:9.04px;width:100%;height:1px;background:#a9a9a9"></div><div style="position:absolute;left:0;top:1px;width:100%;height:1px;background:#e4e4e4"></div><div style="position:absolute;left:0.9px;top:1px;height:9.04px;line-height:9.04px;font-size:7.2px;color:#333;white-space:nowrap"><span class="sq" style="display: inline-block; transform-origin: 0px 50%; transform: scaleX(0.92);">Sample ID</span></div><div style="position:absolute;left:66.9px;top:1px;height:9.04px;line-height:9.04px;font-size:7.2px;color:#333;white-space:pre"><span class="sq" style="display: inline-block; transform-origin: 0px 50%; transform: scaleX(0.92);">50ng/ul in 5% IPA</span></div><div style="position:absolute;left:0;top:18.08px;width:100%;height:1px;background:#a9a9a9"></div><div style="position:absolute;left:0;top:10.04px;width:100%;height:1px;background:#e4e4e4"></div><div style="position:absolute;left:0.9px;top:10.04px;height:9.04px;line-height:9.04px;font-size:7.2px;color:#333;white-space:nowrap"><span class="sq" style="display: inline-block; transform-origin: 0px 50%; transform: scaleX(0.92);">User ID</span></div><div style="position:absolute;left:66.9px;top:10.04px;height:9.04px;line-height:9.04px;font-size:7.2px;color:#333;white-space:pre"><span class="sq" style="display: inline-block; transform-origin: 0px 50%; transform: scaleX(0.92);">Default</span></div><div style="position:absolute;left:0;top:27.12px;width:100%;height:1px;background:#a9a9a9"></div><div style="position:absolute;left:0;top:19.08px;width:100%;height:1px;background:#e4e4e4"></div><div style="position:absolute;left:0.9px;top:19.08px;height:9.04px;line-height:9.04px;font-size:7.2px;color:#333;white-space:nowrap"><span class="sq" style="display: inline-block; transform-origin: 0px 50%; transform: scaleX(0.92);">Date</span></div><div style="position:absolute;left:66.9px;top:19.08px;height:9.04px;line-height:9.04px;font-size:7.2px;color:#333;white-space:pre"><span class="sq" style="display: inline-block; transform-origin: 0px 50%; transform: scaleX(0.92);">3/26/2012</span></div><div style="position:absolute;left:0;top:36.16px;width:100%;height:1px;background:#a9a9a9"></div><div style="position:absolute;left:0;top:28.12px;width:100%;height:1px;background:#e4e4e4"></div><div style="position:absolute;left:0.9px;top:28.12px;height:9.04px;line-height:9.04px;font-size:7.2px;color:#333;white-space:nowrap"><span class="sq" style="display: inline-block; transform-origin: 0px 50%; transform: scaleX(0.92);">Time</span></div><div style="position:absolute;left:66.9px;top:28.12px;height:9.04px;line-height:9.04px;font-size:7.2px;color:#333;white-space:pre"><span class="sq" style="display: inline-block; transform-origin: 0px 50%; transform: scaleX(0.92);">12:59 PM</span></div><div style="position:absolute;left:0;top:45.2px;width:100%;height:1px;background:#a9a9a9"></div><div style="position:absolute;left:0;top:37.16px;width:100%;height:1px;background:#e4e4e4"></div><div style="position:absolute;left:0.9px;top:37.16px;height:9.04px;line-height:9.04px;font-size:7.2px;color:#333;white-space:nowrap"><span class="sq" style="display: inline-block; transform-origin: 0px 50%; transform: scaleX(0.92);">ng/ul</span></div><div style="position:absolute;left:66.9px;top:37.16px;height:9.04px;line-height:9.04px;font-size:7.2px;color:#333;white-space:pre"><span class="sq" style="display: inline-block; transform-origin: 0px 50%; transform: scaleX(0.92);"> 43.19</span></div><div style="position:absolute;left:0;top:54.24px;width:100%;height:1px;background:#a9a9a9"></div><div style="position:absolute;left:0;top:46.2px;width:100%;height:1px;background:#e4e4e4"></div><div style="position:absolute;left:0.9px;top:46.2px;height:9.04px;line-height:9.04px;font-size:7.2px;color:#333;white-space:nowrap"><span class="sq" style="display: inline-block; transform-origin: 0px 50%; transform: scaleX(0.92);">A260</span></div><div style="position:absolute;left:66.9px;top:46.2px;height:9.04px;line-height:9.04px;font-size:7.2px;color:#333;white-space:pre"><span class="sq" style="display: inline-block; transform-origin: 0px 50%; transform: scaleX(0.92);"> 1.080</span></div><div style="position:absolute;left:0;top:63.28px;width:100%;height:1px;background:#a9a9a9"></div><div style="position:absolute;left:0;top:55.24px;width:100%;height:1px;background:#e4e4e4"></div><div style="position:absolute;left:0.9px;top:55.24px;height:9.04px;line-height:9.04px;font-size:7.2px;color:#333;white-space:nowrap"><span class="sq" style="display: inline-block; transform-origin: 0px 50%; transform: scaleX(0.92);">A280</span></div><div style="position:absolute;left:66.9px;top:55.24px;height:9.04px;line-height:9.04px;font-size:7.2px;color:#333;white-space:pre"><span class="sq" style="display: inline-block; transform-origin: 0px 50%; transform: scaleX(0.92);"> 0.617</span></div><div style="position:absolute;left:0;top:72.32px;width:100%;height:1px;background:#a9a9a9"></div><div style="position:absolute;left:0;top:64.28px;width:100%;height:1px;background:#e4e4e4"></div><div style="position:absolute;left:0.9px;top:64.28px;height:9.04px;line-height:9.04px;font-size:7.2px;color:#333;white-space:nowrap"><span class="sq" style="display: inline-block; transform-origin: 0px 50%; transform: scaleX(0.92);">260/280</span></div><div style="position:absolute;left:66.9px;top:64.28px;height:9.04px;line-height:9.04px;font-size:7.2px;color:#333;white-space:pre"><span class="sq" style="display: inline-block; transform-origin: 0px 50%; transform: scaleX(0.92);">  1.75</span></div><div style="position:absolute;left:0;top:81.36px;width:100%;height:1px;background:#a9a9a9"></div><div style="position:absolute;left:0;top:73.32px;width:100%;height:1px;background:#e4e4e4"></div><div style="position:absolute;left:0.9px;top:73.32px;height:9.04px;line-height:9.04px;font-size:7.2px;color:#333;white-space:nowrap"><span class="sq" style="display: inline-block; transform-origin: 0px 50%; transform: scaleX(0.92);">260/230</span></div><div style="position:absolute;left:66.9px;top:73.32px;height:9.04px;line-height:9.04px;font-size:7.2px;color:#333;white-space:pre"><span class="sq" style="display: inline-block; transform-origin: 0px 50%; transform: scaleX(0.92);">  2.09</span></div><div style="position:absolute;left:0;top:90.4px;width:100%;height:1px;background:#a9a9a9"></div><div style="position:absolute;left:0;top:82.36px;width:100%;height:1px;background:#e4e4e4"></div><div style="position:absolute;left:0.9px;top:82.36px;height:9.04px;line-height:9.04px;font-size:7.2px;color:#333;white-space:nowrap"><span class="sq" style="display: inline-block; transform-origin: 0px 50%; transform: scaleX(0.92);">Constant</span></div><div style="position:absolute;left:66.9px;top:82.36px;height:9.04px;line-height:9.04px;font-size:7.2px;color:#333;white-space:pre"><span class="sq" style="display: inline-block; transform-origin: 0px 50%; transform: scaleX(0.92);"> 40.00</span></div><div style="position:absolute;left:0;top:99.44px;width:100%;height:1px;background:#a9a9a9"></div><div style="position:absolute;left:0;top:91.4px;width:100%;height:1px;background:#e4e4e4"></div><div style="position:absolute;left:0.9px;top:91.4px;height:9.04px;line-height:9.04px;font-size:7.2px;color:#333;white-space:nowrap"><span class="sq" style="display: inline-block; transform-origin: 0px 50%; transform: scaleX(0.92);">Cursor Pos.</span></div><div style="position:absolute;left:66.9px;top:91.4px;height:9.04px;line-height:9.04px;font-size:7.2px;color:#333;white-space:pre"><span class="sq" style="display: inline-block; transform-origin: 0px 50%; transform: scaleX(0.92);"> 230</span></div><div style="position:absolute;left:0;top:108.48px;width:100%;height:1px;background:#a9a9a9"></div><div style="position:absolute;left:0;top:100.44px;width:100%;height:1px;background:#e4e4e4"></div><div style="position:absolute;left:0.9px;top:100.44px;height:9.04px;line-height:9.04px;font-size:7.2px;color:#333;white-space:nowrap"><span class="sq" style="display: inline-block; transform-origin: 0px 50%; transform: scaleX(0.92);">Cursor abs.</span></div><div style="position:absolute;left:66.9px;top:100.44px;height:9.04px;line-height:9.04px;font-size:7.2px;color:#333;white-space:pre"><span class="sq" style="display: inline-block; transform-origin: 0px 50%; transform: scaleX(0.92);"> 0.517</span></div><div style="position:absolute;left:0;top:117.52px;width:100%;height:1px;background:#a9a9a9"></div><div style="position:absolute;left:0;top:109.48px;width:100%;height:1px;background:#e4e4e4"></div><div style="position:absolute;left:0.9px;top:109.48px;height:9.04px;line-height:9.04px;font-size:7.2px;color:#333;white-space:nowrap"><span class="sq" style="display: inline-block; transform-origin: 0px 50%; transform: scaleX(0.92);">340 raw</span></div><div style="position:absolute;left:66.9px;top:109.48px;height:9.04px;line-height:9.04px;font-size:7.2px;color:#333;white-space:pre"><span class="sq" style="display: inline-block; transform-origin: 0px 50%; transform: scaleX(0.92);">-0.009</span></div><div style="position:absolute;left:0;top:126.56px;width:100%;height:1px;background:#a9a9a9"></div><div style="position:absolute;left:0;top:118.52px;width:100%;height:1px;background:#e4e4e4"></div><div style="position:absolute;left:0.9px;top:118.52px;height:9.04px;line-height:9.04px;font-size:7.2px;color:#333;white-space:nowrap"><span class="sq" style="display: inline-block; transform-origin: 0px 50%; transform: scaleX(0.92);">Measurement Type</span></div><div style="position:absolute;left:66.9px;top:118.52px;height:9.04px;line-height:9.04px;font-size:7.2px;color:#333;white-space:pre"><span class="sq" style="display: inline-block; transform-origin: 0px 50%; transform: scaleX(0.92);">Measure</span></div><div style="position:absolute;left:0;top:135.6px;width:100%;height:1px;background:#a9a9a9"></div><div style="position:absolute;left:0;top:127.56px;width:100%;height:1px;background:#e4e4e4"></div><div style="position:absolute;left:0.9px;top:127.56px;height:9.04px;line-height:9.04px;font-size:7.2px;color:#333;white-space:nowrap"><span class="sq" style="display: inline-block; transform-origin: 0px 50%; transform: scaleX(0.92);">Serial #</span></div><div style="position:absolute;left:66.9px;top:127.56px;height:9.04px;line-height:9.04px;font-size:7.2px;color:#333;white-space:pre"><span class="sq" style="display: inline-block; transform-origin: 0px 50%; transform: scaleX(0.92);">USB2G27725BB690</span></div><div style="position:absolute;left:0;top:144.64px;width:100%;height:1px;background:#a9a9a9"></div><div style="position:absolute;left:0;top:136.6px;width:100%;height:1px;background:#e4e4e4"></div><div style="position:absolute;left:0.9px;top:136.6px;height:9.04px;line-height:9.04px;font-size:7.2px;color:#333;white-space:nowrap"><span class="sq" style="display: inline-block; transform-origin: 0px 50%; transform: scaleX(0.92);">Config.</span></div><div style="position:absolute;left:66.9px;top:136.6px;height:9.04px;line-height:9.04px;font-size:7.2px;color:#333;white-space:pre"><span class="sq" style="display: inline-block; transform-origin: 0px 50%; transform: scaleX(0.92);">0.994100/-0.16/96/24</span></div><div style="position:absolute;left:0;top:153.68px;width:100%;height:1px;background:#a9a9a9"></div><div style="position:absolute;left:0;top:145.64px;width:100%;height:1px;background:#e4e4e4"></div><div style="position:absolute;left:0;top:162.72px;width:100%;height:1px;background:#a9a9a9"></div><div style="position:absolute;left:0;top:154.68px;width:100%;height:1px;background:#e4e4e4"></div><div style="position:absolute;left:0;top:171.76px;width:100%;height:1px;background:#a9a9a9"></div><div style="position:absolute;left:0;top:163.72px;width:100%;height:1px;background:#e4e4e4"></div><div style="position:absolute;left:0;top:180.8px;width:100%;height:1px;background:#a9a9a9"></div><div style="position:absolute;left:0;top:172.76px;width:100%;height:1px;background:#e4e4e4"></div><div style="position:absolute;left:0;top:189.84px;width:100%;height:1px;background:#a9a9a9"></div><div style="position:absolute;left:0;top:181.8px;width:100%;height:1px;background:#e4e4e4"></div><div style="position:absolute;left:0;top:198.88px;width:100%;height:1px;background:#a9a9a9"></div><div style="position:absolute;left:0;top:190.84px;width:100%;height:1px;background:#e4e4e4"></div><div style="position:absolute;left:0;top:207.92px;width:100%;height:1px;background:#a9a9a9"></div><div style="position:absolute;left:0;top:199.88px;width:100%;height:1px;background:#e4e4e4"></div><div style="position:absolute;left:0;top:216.96px;width:100%;height:1px;background:#a9a9a9"></div><div style="position:absolute;left:0;top:208.92px;width:100%;height:1px;background:#e4e4e4"></div><div style="position:absolute;left:0;top:226px;width:100%;height:1px;background:#a9a9a9"></div><div style="position:absolute;left:0;top:217.96px;width:100%;height:1px;background:#e4e4e4"></div><div style="position:absolute;left:0;top:235.04px;width:100%;height:1px;background:#a9a9a9"></div><div style="position:absolute;left:0;top:227px;width:100%;height:1px;background:#e4e4e4"></div><div style="position:absolute;left:64.7px;top:0;width:1px;height:100%;background:#8c8c8c"></div><div style="position:absolute;left:150.83px;top:0;width:1px;height:100%;background:#8c8c8c"></div></div>
<div style="position:absolute;left:336.08px;top:252.42px;width:151.83px;height:9.51px;background:#b4b4b4;border-top:1px solid #999;box-sizing:border-box"></div>
<div style="position:absolute;left:336.59px;top:252.72px;width:10.24px;height:9px;background:#cfcfcf;box-sizing:border-box;border-right:1px solid #888;border-bottom:1px solid #888"></div>
<div style="position:absolute;left:339.46px;top:254.98px;width:3.07px;height:4.71px;background:#111;clip-path:polygon(0 50%,100% 0,100% 100%)"></div>
<div style="position:absolute;left:346.83px;top:252.93px;width:86.37px;height:8.8px;background:linear-gradient(#d4d4d4,#a8a8a8);box-sizing:border-box;border-left:1px solid #555;border-right:1px solid #555;border-bottom:1px solid #777"></div>
<div style="position:absolute;left:476.94px;top:252.72px;width:10.25px;height:9px;background:#cfcfcf;box-sizing:border-box;border-right:1px solid #888;border-bottom:1px solid #888"></div>
<div style="position:absolute;left:480.84px;top:254.98px;width:3.07px;height:4.71px;background:#111;clip-path:polygon(0 0,100% 50%,0 100%)"></div>
</div>
<div style="position:absolute;left:726.3px;top:391.7px;width:138.8px;height:76.3px;background:#fff;box-sizing:border-box;border:1.4px solid #8a8a8a"></div>
<div style="position:absolute;left:744.5px;top:395.21px;width:101.9px;height:20px;line-height:20px;font-size:19.6px;font-weight:bold;color:#111;white-space:nowrap;-webkit-text-stroke:0.5px #111"><span class="sq" style="display: inline-block; transform-origin: 0px 50%; transform: scaleX(0.789731);">RNA + 5% IPA</span></div>
<div style="position:absolute;left:740.4px;top:420.2px;height:16.3px;line-height:16.3px;font-size:16.3px;color:#262626;white-space:nowrap"><span class="sq ratio" style="display: inline-block; transform-origin: 0px 50%; transform: scaleX(0.990554);">A<sub>260</sub>/A<sub>280</sub> = 1.75</span></div>
<div style="position:absolute;left:740.4px;top:445.1px;height:16.3px;line-height:16.3px;font-size:16.3px;color:#262626;white-space:nowrap"><span class="sq ratio" style="display: inline-block; transform-origin: 0px 50%; transform: scaleX(0.990554);">A<sub>260</sub>/A<sub>230</sub> = 2.09</span></div>
<div class="lab" style="left:-0.5px;top:-0.9px"><span class="sq" style="display: inline-block; transform-origin: 0px 50%; transform: scaleX(0.798669);">A.</span></div>
<div class="lab" style="left:526.5px;top:-0.2px"><span class="sq" style="display: inline-block; transform-origin: 0px 50%; transform: scaleX(0.772047);">B.</span></div>
<div class="lab" style="left:0.5px;top:341.2px"><span class="sq" style="display: inline-block; transform-origin: 0px 50%; transform: scaleX(0.745424);">C.</span></div>
<div class="lab" style="left:526.0px;top:341.0px"><span class="sq" style="display: inline-block; transform-origin: 0px 50%; transform: scaleX(0.809318);">D.</span></div>
<div style="position:absolute;left:1039.5px;top:640px;width:0;height:0"><div style="position:absolute;left:0;top:0;transform:translate(-50%,-50%) rotate(-90deg);font-size:8.5px;line-height:8.5px;color:#222;white-space:nowrap"><span style="display:inline-block;transform:scaleX(0.93)">10948TA</span></div></div>

</body></html>
